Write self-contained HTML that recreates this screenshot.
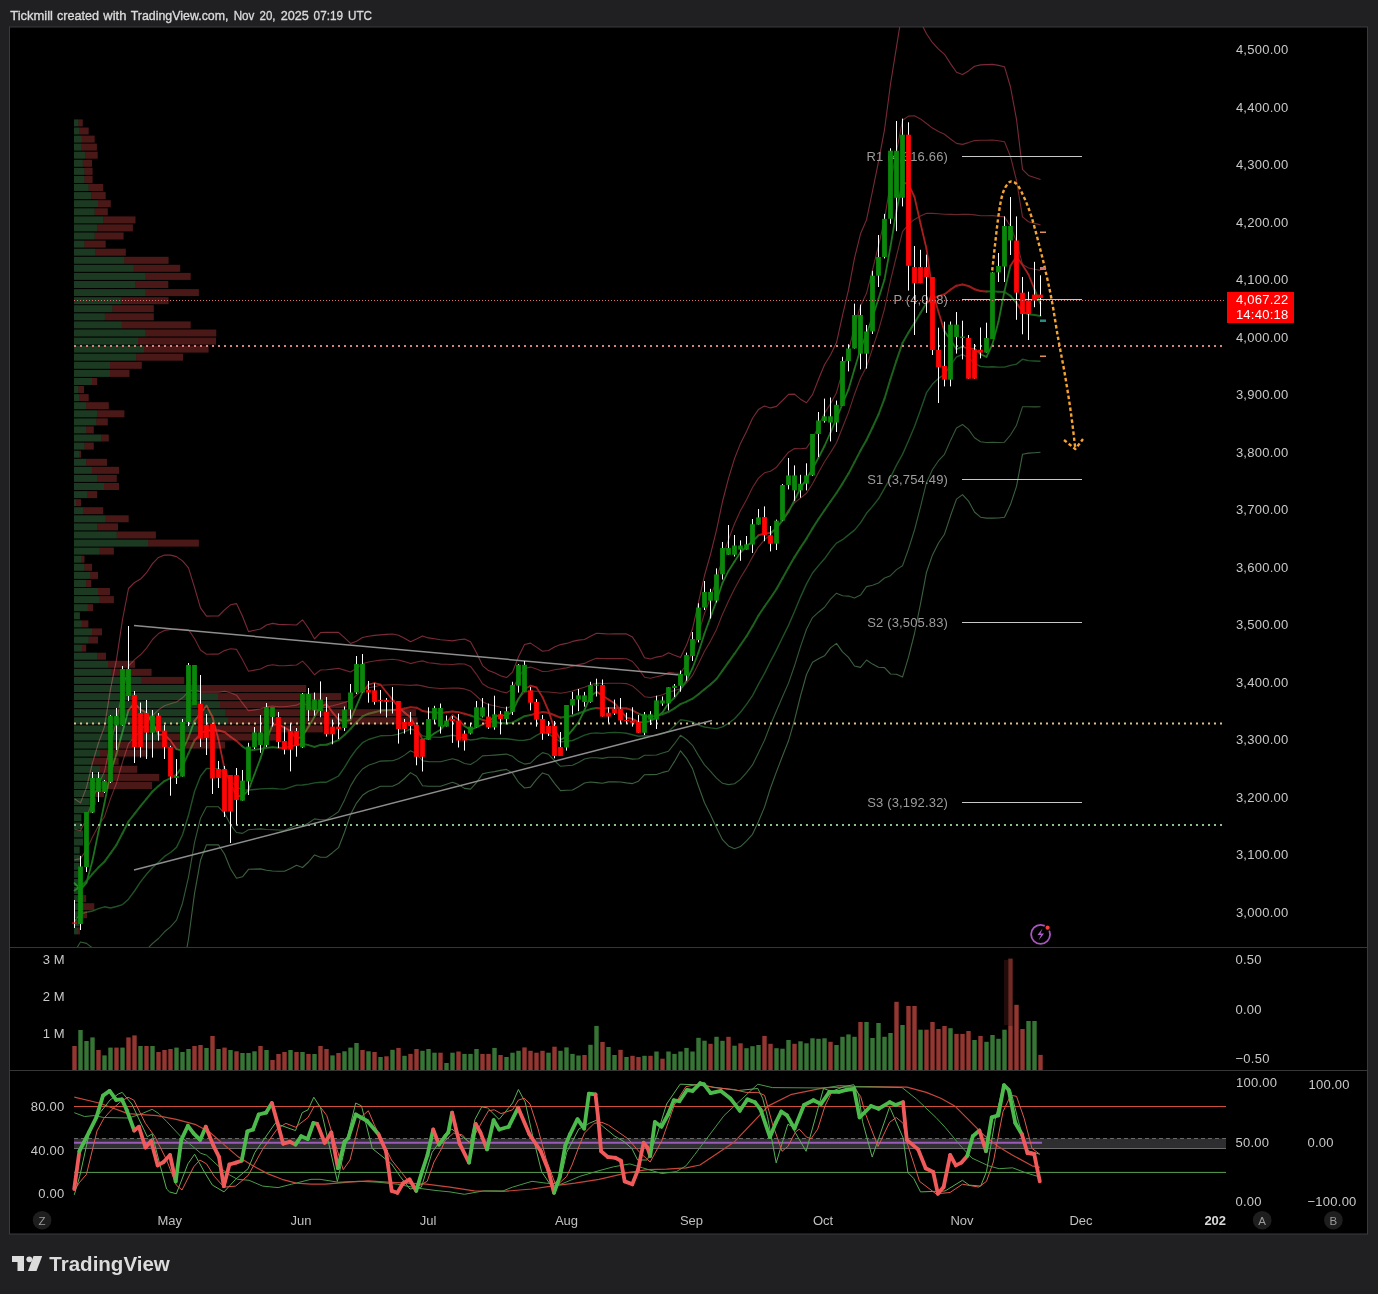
<!DOCTYPE html><html><head><meta charset="utf-8"><style>
html,body{margin:0;padding:0;background:#201f22;width:1378px;height:1294px;overflow:hidden;}
svg{position:absolute;left:0;top:0;}
text{font-family:"Liberation Sans",Arial,sans-serif;}
</style></head><body>
<svg width="1378" height="1294" viewBox="0 0 1378 1294">
<text y="20" font-size="13" fill="#dadada" stroke="#dadada" stroke-width="0.35"><tspan x="10.2" textLength="42.8" lengthAdjust="spacingAndGlyphs">Tickmill</tspan> <tspan x="57" textLength="42" lengthAdjust="spacingAndGlyphs">created</tspan> <tspan x="103.3" textLength="23.1" lengthAdjust="spacingAndGlyphs">with</tspan> <tspan x="130.7" textLength="97.8" lengthAdjust="spacingAndGlyphs">TradingView.com,</tspan> <tspan x="233.7" textLength="20.7" lengthAdjust="spacingAndGlyphs">Nov</tspan> <tspan x="259.5" textLength="16" lengthAdjust="spacingAndGlyphs">20,</tspan> <tspan x="280.8" textLength="28.1" lengthAdjust="spacingAndGlyphs">2025</tspan> <tspan x="313.6" textLength="29.4" lengthAdjust="spacingAndGlyphs">07:19</tspan> <tspan x="348" textLength="24" lengthAdjust="spacingAndGlyphs">UTC</tspan></text>
<rect x="9.5" y="27" width="1358" height="1207" fill="#000" stroke="#3a3a3a" stroke-width="1"/>
<line x1="10" y1="947.5" x2="1367" y2="947.5" stroke="#363636" stroke-width="1"/>
<line x1="10" y1="1070.5" x2="1367" y2="1070.5" stroke="#363636" stroke-width="1"/>
<defs><clipPath id="mp"><rect x="10" y="27" width="1216" height="920"/></clipPath>
<clipPath id="op"><rect x="10" y="1071" width="1216" height="140"/></clipPath></defs>
<g clip-path="url(#mp)">
<polyline points="74.5,798.8 80.5,802.9 86.5,787.6 92.5,762.8 98.5,742.9 104.5,726.6 110.5,689.1 116.5,659.6 122.5,619.5 128.5,588.5 134.5,582.5 140.5,579.1 146.5,572.7 152.5,563.6 158.5,557.4 164.5,555 170.5,555.1 176.5,556.6 182.5,560.9 188.5,567.9 194.5,587.4 200.5,607.9 206.5,616.1 212.5,616 218.5,616 224.5,609.9 230.5,604.8 236.5,603.6 242.5,616.3 248.5,631.6 254.5,630.3 260.5,629 266.5,625 272.5,623.4 278.5,624.4 284.5,624.6 290.5,624.8 296.5,625 302.5,619.8 308.5,628.3 314.5,638.8 320.5,632.6 326.5,632.3 332.5,632.4 338.5,632.4 344.5,637.6 350.5,643.4 356.5,641.3 362.5,637.5 368.5,636.2 374.5,635.4 380.5,634.9 386.5,634.4 392.5,634 398.5,635.3 404.5,638.2 410.5,641.8 416.5,639.1 422.5,635.9 428.5,637.9 434.5,638.8 440.5,639.7 446.5,640.3 452.5,640.9 458.5,639.8 464.5,639.1 470.5,641.8 476.5,652.7 482.5,665.6 488.5,670.6 494.5,672.7 500.5,675.7 506.5,677.6 512.5,672.2 518.5,656.7 524.5,644.5 530.5,643.1 536.5,647.1 542.5,651.3 548.5,650.5 554.5,647 560.5,644.6 566.5,643.4 572.5,641.4 578.5,640.1 584.5,639.5 590.5,636.2 596.5,633.3 602.5,633.6 608.5,634 614.5,633.9 620.5,633.9 626.5,633.9 632.5,637.1 638.5,646.2 644.5,657.7 650.5,659 656.5,657.1 662.5,656 668.5,652.7 674.5,655.3 680.5,657.6 686.5,645.1 692.5,628.8 698.5,602.4 704.5,575.5 710.5,554.3 716.5,530.2 722.5,501.5 728.5,478.4 734.5,458.6 740.5,443.4 746.5,431.5 752.5,418.2 758.5,409.4 764.5,405.9 770.5,407.9 776.5,406.4 782.5,400.5 788.5,394.4 794.5,394.1 800.5,399.2 806.5,402.8 812.5,394.6 818.5,379.3 824.5,364.7 830.5,355 836.5,342.6 842.5,315.4 848.5,289.9 854.5,258.2 860.5,233.8 866.5,219.9 872.5,191 878.5,161.7 884.5,129.8 890.5,84 896.5,46.9 902.5,9 908.5,7.9 914.5,12.3 920.5,21.9 926.5,33.8 932.5,42.7 938.5,49.2 944.5,54.3 950.5,63.6 956.5,72.3 962.5,74.4 968.5,70.9 974.5,66.3 980.5,64.9 986.5,64.6 992.5,64.4 998.5,65.4 1004.5,66.7 1010.5,87 1016.5,119.3 1022.5,169.4 1028.5,175.4 1034.5,177.5 1040.5,179.5" fill="none" stroke="#7a2a38" stroke-width="1.1" stroke-linejoin="round" />
<polyline points="74.5,829.3 80.5,830.7 86.5,818.7 92.5,799.8 98.5,784.4 104.5,771.6 110.5,743.9 116.5,721.3 122.5,690.8 128.5,666.1 134.5,659.6 140.5,654.8 146.5,648.1 152.5,639.5 158.5,633.6 164.5,630.4 170.5,629.5 176.5,629.3 182.5,629.4 188.5,629.7 194.5,638.5 200.5,650 206.5,654.2 212.5,654.1 218.5,654.1 224.5,650.6 230.5,648.8 236.5,649.4 242.5,659.7 248.5,671.2 254.5,670.1 260.5,669 266.5,665.9 272.5,664.7 278.5,665.6 284.5,665.7 290.5,665.4 296.5,665 302.5,661.1 308.5,667.3 314.5,674.8 320.5,670 326.5,669.8 332.5,669.1 338.5,668.3 344.5,670.1 350.5,672 356.5,668.3 362.5,663.8 368.5,662 374.5,661 380.5,660.1 386.5,659.7 392.5,659.3 398.5,660 404.5,661.6 410.5,663.6 416.5,662 422.5,660.9 428.5,662.7 434.5,663.4 440.5,664.1 446.5,664.3 452.5,664.5 458.5,663.9 464.5,664 470.5,666.4 476.5,674.3 482.5,683.7 488.5,687.5 494.5,689.2 500.5,691.5 506.5,692.9 512.5,689 518.5,677.6 524.5,668.4 530.5,667.1 536.5,669.1 542.5,671.5 548.5,671.3 554.5,669.7 560.5,668.9 566.5,667.9 572.5,666.2 578.5,664.6 584.5,663.4 590.5,660.5 596.5,658.2 602.5,658.5 608.5,658.6 614.5,658.6 620.5,658.6 626.5,658.8 632.5,661.5 638.5,668.7 644.5,677.2 650.5,678.3 656.5,676.7 662.5,675.4 668.5,672.4 674.5,673 680.5,673.2 686.5,664 692.5,652.1 698.5,633.1 704.5,613.4 710.5,597.7 716.5,579.8 722.5,557.8 728.5,539.6 734.5,523.7 740.5,510.6 746.5,499.7 752.5,487.5 758.5,478.1 764.5,472.8 770.5,471.3 776.5,467.2 782.5,459.7 788.5,452.2 794.5,448.5 800.5,448.7 806.5,448.1 812.5,439.2 818.5,425.9 824.5,413.2 830.5,403.8 836.5,392.7 842.5,371.5 848.5,351.2 854.5,326.2 860.5,306.1 866.5,293.3 872.5,269.8 878.5,246 884.5,219.4 890.5,182.4 896.5,151.4 902.5,120.3 908.5,116.1 914.5,115.8 920.5,118.9 926.5,123.5 932.5,128.1 938.5,131.5 944.5,134.3 950.5,139 956.5,143.4 962.5,144.4 968.5,142.6 974.5,140.6 980.5,140.3 986.5,140.2 992.5,140 998.5,140.8 1004.5,141.8 1010.5,156.6 1016.5,180.5 1022.5,216.9 1028.5,221.7 1034.5,223.4 1040.5,224.9" fill="none" stroke="#72262f" stroke-width="1.1" stroke-linejoin="round" />
<polyline points="74.5,859.9 80.5,858.6 86.5,849.9 92.5,836.9 98.5,825.8 104.5,816.7 110.5,798.6 116.5,783.1 122.5,762 128.5,743.8 134.5,736.8 140.5,730.5 146.5,723.5 152.5,715.5 158.5,709.8 164.5,705.7 170.5,703.8 176.5,702 182.5,697.8 188.5,691.6 194.5,689.5 200.5,692.1 206.5,692.3 212.5,692.3 218.5,692.3 224.5,691.3 230.5,692.8 236.5,695.2 242.5,703.1 248.5,710.8 254.5,709.9 260.5,709 266.5,706.8 272.5,706 278.5,706.7 284.5,706.8 290.5,706 296.5,705.1 302.5,702.4 308.5,706.2 314.5,710.9 320.5,707.5 326.5,707.2 332.5,705.8 338.5,704.2 344.5,702.5 350.5,700.5 356.5,695.2 362.5,690.1 368.5,687.8 374.5,686.6 380.5,685.3 386.5,685 392.5,684.7 398.5,684.7 404.5,685 410.5,685.4 416.5,684.9 422.5,685.9 428.5,687.4 434.5,688 440.5,688.5 446.5,688.3 452.5,688 458.5,688.1 464.5,688.9 470.5,690.9 476.5,696 482.5,701.7 488.5,704.5 494.5,705.7 500.5,707.3 506.5,708.2 512.5,705.8 518.5,698.5 524.5,692.3 530.5,691.1 536.5,691.2 542.5,691.8 548.5,692 554.5,692.5 560.5,693.3 566.5,692.3 572.5,691 578.5,689 584.5,687.3 590.5,684.8 596.5,683.1 602.5,683.5 608.5,683.3 614.5,683.2 620.5,683.3 626.5,683.6 632.5,685.9 638.5,691.2 644.5,696.7 650.5,697.5 656.5,696.2 662.5,694.8 668.5,692.1 674.5,690.6 680.5,688.7 686.5,682.9 692.5,675.4 698.5,663.7 704.5,651.3 710.5,641.1 716.5,629.4 722.5,614.2 728.5,600.9 734.5,588.7 740.5,577.8 746.5,567.9 752.5,556.9 758.5,546.8 764.5,539.7 770.5,534.6 776.5,528.1 782.5,519 788.5,509.9 794.5,502.8 800.5,498.1 806.5,493.3 812.5,483.8 818.5,472.4 824.5,461.7 830.5,452.6 836.5,442.8 842.5,427.5 848.5,412.4 854.5,394.2 860.5,378.3 866.5,366.6 872.5,348.7 878.5,330.3 884.5,309 890.5,280.7 896.5,256 902.5,231.7 908.5,224.3 914.5,219.4 920.5,215.9 926.5,213.2 932.5,213.4 938.5,213.8 944.5,214.3 950.5,214.4 956.5,214.6 962.5,214.4 968.5,214.3 974.5,214.9 980.5,215.7 986.5,215.8 992.5,215.6 998.5,216.2 1004.5,216.9 1010.5,226.2 1016.5,241.7 1022.5,264.4 1028.5,268 1034.5,269.3 1040.5,270.4" fill="none" stroke="#6a282c" stroke-width="1.1" stroke-linejoin="round" />
<polyline points="74.5,921.1 80.5,914.2 86.5,912.2 92.5,911 98.5,908.7 104.5,906.8 110.5,908 116.5,906.5 122.5,904.6 128.5,899.2 134.5,891 140.5,881.9 146.5,874.3 152.5,867.5 158.5,862.3 164.5,856.4 170.5,852.5 176.5,847.4 182.5,834.8 188.5,815.3 194.5,791.5 200.5,776.2 206.5,768.5 212.5,768.6 218.5,768.6 224.5,772.7 230.5,780.8 236.5,786.8 242.5,790 248.5,790 254.5,789.5 260.5,788.9 266.5,788.6 272.5,788.5 278.5,788.9 284.5,789.1 290.5,787.2 296.5,785.1 302.5,785 308.5,784.1 314.5,782.9 320.5,782.3 326.5,782.2 332.5,779.2 338.5,776 344.5,767.4 350.5,757.5 356.5,749.2 362.5,742.7 368.5,739.5 374.5,737.7 380.5,735.8 386.5,735.6 392.5,735.4 398.5,734.1 404.5,731.8 410.5,729 416.5,730.6 422.5,735.9 428.5,736.9 434.5,737.1 440.5,737.4 446.5,736.3 452.5,735.2 458.5,736.3 464.5,738.6 470.5,740 476.5,739.3 482.5,737.8 488.5,738.5 494.5,738.6 500.5,738.8 506.5,738.8 512.5,739.5 518.5,740.4 524.5,740.2 530.5,739.1 536.5,735.3 542.5,732.3 548.5,733.6 554.5,737.9 560.5,741.9 566.5,741.3 572.5,740.5 578.5,737.9 584.5,735.1 590.5,733.4 596.5,732.9 602.5,733.4 608.5,732.6 614.5,732.5 620.5,732.6 626.5,733.3 632.5,734.7 638.5,736.2 644.5,735.7 650.5,736 656.5,735.4 662.5,733.6 668.5,731.5 674.5,726 680.5,719.7 686.5,720.6 692.5,722 698.5,725 704.5,727 710.5,727.9 716.5,728.6 722.5,726.9 728.5,723.4 734.5,718.8 740.5,712.2 746.5,704.4 752.5,695.6 758.5,684.1 764.5,673.4 770.5,661.3 776.5,649.9 782.5,637.5 788.5,625.4 794.5,611.5 800.5,597.1 806.5,583.9 812.5,573 818.5,565.6 824.5,558.8 830.5,550.3 836.5,543.1 842.5,539.7 848.5,534.9 854.5,530.1 860.5,522.9 866.5,513.3 872.5,506.4 878.5,498.8 884.5,488.3 890.5,477.4 896.5,465.1 902.5,454.4 908.5,440.8 914.5,426.5 920.5,409.9 926.5,392.7 932.5,384.1 938.5,378.4 944.5,374.3 950.5,365.1 956.5,356.8 962.5,354.5 968.5,357.7 974.5,363.5 980.5,366.4 986.5,367 992.5,366.8 998.5,367.1 1004.5,367.1 1010.5,365.4 1016.5,364.1 1022.5,359.3 1028.5,360.6 1034.5,361 1040.5,361.3" fill="none" stroke="#1f5226" stroke-width="1.4" stroke-linejoin="round" />
<polyline points="74.5,951.7 80.5,942 86.5,943.4 92.5,948 98.5,950.2 104.5,951.8 110.5,962.8 116.5,968.3 122.5,975.9 128.5,976.9 134.5,968.1 140.5,957.6 146.5,949.7 152.5,943.5 158.5,938.5 164.5,931.8 170.5,926.9 176.5,920.1 182.5,903.2 188.5,877.1 194.5,842.6 200.5,818.2 206.5,806.7 212.5,806.8 218.5,806.8 224.5,813.3 230.5,824.8 236.5,832.5 242.5,833.4 248.5,829.7 254.5,829.3 260.5,828.9 266.5,829.5 272.5,829.8 278.5,830 284.5,830.2 290.5,827.8 296.5,825.2 302.5,826.3 308.5,823 314.5,818.9 320.5,819.8 326.5,819.7 332.5,815.9 338.5,811.8 344.5,799.9 350.5,786.1 356.5,776.1 362.5,769 368.5,765.3 374.5,763.3 380.5,761.1 386.5,760.9 392.5,760.8 398.5,758.8 404.5,755.1 410.5,750.8 416.5,753.5 422.5,760.8 428.5,761.6 434.5,761.7 440.5,761.8 446.5,760.3 452.5,758.8 458.5,760.4 464.5,763.5 470.5,764.5 476.5,760.9 482.5,755.9 488.5,755.5 494.5,755.1 500.5,754.6 506.5,754.1 512.5,756.3 518.5,761.3 524.5,764.1 530.5,763.1 536.5,757.3 542.5,752.6 548.5,754.3 554.5,760.7 560.5,766.3 566.5,765.8 572.5,765.2 578.5,762.4 584.5,759 590.5,757.7 596.5,757.7 602.5,758.4 608.5,757.2 614.5,757.2 620.5,757.3 626.5,758.1 632.5,759.1 638.5,758.7 644.5,755.2 650.5,755.3 656.5,755 662.5,753 668.5,751.2 674.5,743.7 680.5,735.3 686.5,739.5 692.5,745.3 698.5,755.6 704.5,764.9 710.5,771.3 716.5,778.2 722.5,783.3 728.5,784.6 734.5,783.8 740.5,779.4 746.5,772.6 752.5,764.9 758.5,752.8 764.5,740.2 770.5,724.7 776.5,710.8 782.5,696.7 788.5,683.1 794.5,665.8 800.5,646.6 806.5,629.2 812.5,617.6 818.5,612.2 824.5,607.3 830.5,599.1 836.5,593.2 842.5,595.8 848.5,596.1 854.5,598.1 860.5,595.1 866.5,586.6 872.5,585.2 878.5,583 884.5,578 890.5,575.7 896.5,569.6 902.5,565.7 908.5,549 914.5,530 920.5,506.9 926.5,482.4 932.5,469.5 938.5,460.7 944.5,454.3 950.5,440.4 956.5,428 962.5,424.5 968.5,429.4 974.5,437.7 980.5,441.8 986.5,442.5 992.5,442.4 998.5,442.5 1004.5,442.2 1010.5,435 1016.5,425.2 1022.5,406.8 1028.5,406.8 1034.5,406.9 1040.5,406.8" fill="none" stroke="#345a37" stroke-width="1.1" stroke-linejoin="round" />
<polyline points="74.5,982.3 80.5,969.9 86.5,974.6 92.5,985.1 98.5,991.6 104.5,996.8 110.5,1017.5 116.5,1030 122.5,1047.1 128.5,1054.6 134.5,1045.2 140.5,1033.3 146.5,1025.1 152.5,1019.5 158.5,1014.7 164.5,1007.1 170.5,1001.2 176.5,992.8 182.5,971.7 188.5,939 194.5,893.6 200.5,860.3 206.5,844.8 212.5,844.9 218.5,844.9 224.5,854 230.5,868.8 236.5,878.3 242.5,876.8 248.5,869.3 254.5,869.1 260.5,868.9 266.5,870.3 272.5,871 278.5,871.2 284.5,871.3 290.5,868.4 296.5,865.2 302.5,867.5 308.5,862 314.5,854.9 320.5,857.2 326.5,857.2 332.5,852.7 338.5,847.7 344.5,832.3 350.5,814.6 356.5,803.1 362.5,795.3 368.5,791.2 374.5,788.9 380.5,786.3 386.5,786.2 392.5,786.2 398.5,783.5 404.5,778.5 410.5,772.6 416.5,776.3 422.5,785.8 428.5,786.3 434.5,786.3 440.5,786.3 446.5,784.3 452.5,782.3 458.5,784.6 464.5,788.4 470.5,789.1 476.5,782.6 482.5,773.9 488.5,772.5 494.5,771.6 500.5,770.4 506.5,769.4 512.5,773.1 518.5,782.3 524.5,788 530.5,787.1 536.5,779.4 542.5,772.9 548.5,775.1 554.5,783.4 560.5,790.6 566.5,790.3 572.5,790 578.5,786.8 584.5,783 590.5,782 596.5,782.6 602.5,783.3 608.5,781.9 614.5,781.8 620.5,782 626.5,782.9 632.5,783.6 638.5,781.2 644.5,774.7 650.5,774.6 656.5,774.5 662.5,772.4 668.5,771 674.5,761.4 680.5,750.8 686.5,758.3 692.5,768.6 698.5,786.2 704.5,802.8 710.5,814.8 716.5,827.8 722.5,839.7 728.5,845.9 734.5,848.8 740.5,846.6 746.5,840.9 752.5,834.3 758.5,821.5 764.5,807.1 770.5,788 776.5,771.6 782.5,756 788.5,740.8 794.5,720.1 800.5,696 806.5,674.5 812.5,662.2 818.5,658.8 824.5,655.8 830.5,647.9 836.5,643.4 842.5,651.9 848.5,657.4 854.5,666 860.5,667.4 866.5,660 872.5,664.1 878.5,667.3 884.5,667.6 890.5,674 896.5,674.2 902.5,677.1 908.5,657.2 914.5,633.5 920.5,603.9 926.5,572.2 932.5,554.9 938.5,543 944.5,534.2 950.5,515.8 956.5,499.1 962.5,494.6 968.5,501.1 974.5,512 980.5,517.2 986.5,518.1 992.5,518.1 998.5,518 1004.5,517.3 1010.5,504.6 1016.5,486.4 1022.5,454.3 1028.5,453.1 1034.5,452.7 1040.5,452.3" fill="none" stroke="#3b603e" stroke-width="1.1" stroke-linejoin="round" />
<line x1="74.5" y1="890.5" x2="80.5" y2="886.4" stroke="#1b621b" stroke-width="2" stroke-linecap="round"/>
<line x1="80.5" y1="886.4" x2="86.5" y2="881.1" stroke="#1b621b" stroke-width="2" stroke-linecap="round"/>
<line x1="86.5" y1="881.1" x2="92.5" y2="873.9" stroke="#1b621b" stroke-width="2" stroke-linecap="round"/>
<line x1="92.5" y1="873.9" x2="98.5" y2="867.3" stroke="#1b621b" stroke-width="2" stroke-linecap="round"/>
<line x1="98.5" y1="867.3" x2="104.5" y2="861.7" stroke="#1b621b" stroke-width="2" stroke-linecap="round"/>
<line x1="104.5" y1="861.7" x2="110.5" y2="853.3" stroke="#1b621b" stroke-width="2" stroke-linecap="round"/>
<line x1="110.5" y1="853.3" x2="116.5" y2="844.8" stroke="#1b621b" stroke-width="2" stroke-linecap="round"/>
<line x1="116.5" y1="844.8" x2="122.5" y2="833.3" stroke="#1b621b" stroke-width="2" stroke-linecap="round"/>
<line x1="122.5" y1="833.3" x2="128.5" y2="821.5" stroke="#1b621b" stroke-width="2" stroke-linecap="round"/>
<line x1="128.5" y1="821.5" x2="134.5" y2="813.9" stroke="#1b621b" stroke-width="2" stroke-linecap="round"/>
<line x1="134.5" y1="813.9" x2="140.5" y2="806.2" stroke="#1b621b" stroke-width="2" stroke-linecap="round"/>
<line x1="140.5" y1="806.2" x2="146.5" y2="798.9" stroke="#1b621b" stroke-width="2" stroke-linecap="round"/>
<line x1="146.5" y1="798.9" x2="152.5" y2="791.5" stroke="#1b621b" stroke-width="2" stroke-linecap="round"/>
<line x1="152.5" y1="791.5" x2="158.5" y2="786.1" stroke="#1b621b" stroke-width="2" stroke-linecap="round"/>
<line x1="158.5" y1="786.1" x2="164.5" y2="781.1" stroke="#1b621b" stroke-width="2" stroke-linecap="round"/>
<line x1="164.5" y1="781.1" x2="170.5" y2="778.2" stroke="#1b621b" stroke-width="2" stroke-linecap="round"/>
<line x1="170.5" y1="778.2" x2="176.5" y2="774.7" stroke="#9c1c1c" stroke-width="2" stroke-linecap="round"/>
<line x1="176.5" y1="774.7" x2="182.5" y2="766.3" stroke="#1b621b" stroke-width="2" stroke-linecap="round"/>
<line x1="182.5" y1="766.3" x2="188.5" y2="753.4" stroke="#1b621b" stroke-width="2" stroke-linecap="round"/>
<line x1="188.5" y1="753.4" x2="194.5" y2="740.5" stroke="#1b621b" stroke-width="2" stroke-linecap="round"/>
<line x1="194.5" y1="740.5" x2="200.5" y2="734.1" stroke="#9c1c1c" stroke-width="2" stroke-linecap="round"/>
<line x1="200.5" y1="734.1" x2="206.5" y2="730.4" stroke="#9c1c1c" stroke-width="2" stroke-linecap="round"/>
<line x1="206.5" y1="730.4" x2="212.5" y2="730.4" stroke="#9c1c1c" stroke-width="2" stroke-linecap="round"/>
<line x1="212.5" y1="730.4" x2="218.5" y2="730.5" stroke="#9c1c1c" stroke-width="2" stroke-linecap="round"/>
<line x1="218.5" y1="730.5" x2="224.5" y2="732" stroke="#9c1c1c" stroke-width="2" stroke-linecap="round"/>
<line x1="224.5" y1="732" x2="230.5" y2="736.8" stroke="#9c1c1c" stroke-width="2" stroke-linecap="round"/>
<line x1="230.5" y1="736.8" x2="236.5" y2="741" stroke="#9c1c1c" stroke-width="2" stroke-linecap="round"/>
<line x1="236.5" y1="741" x2="242.5" y2="746.5" stroke="#9c1c1c" stroke-width="2" stroke-linecap="round"/>
<line x1="242.5" y1="746.5" x2="248.5" y2="750.4" stroke="#1b621b" stroke-width="2" stroke-linecap="round"/>
<line x1="248.5" y1="750.4" x2="254.5" y2="749.7" stroke="#1b621b" stroke-width="2" stroke-linecap="round"/>
<line x1="254.5" y1="749.7" x2="260.5" y2="749" stroke="#1b621b" stroke-width="2" stroke-linecap="round"/>
<line x1="260.5" y1="749" x2="266.5" y2="747.7" stroke="#1b621b" stroke-width="2" stroke-linecap="round"/>
<line x1="266.5" y1="747.7" x2="272.5" y2="747.2" stroke="#1b621b" stroke-width="2" stroke-linecap="round"/>
<line x1="272.5" y1="747.2" x2="278.5" y2="747.8" stroke="#1b621b" stroke-width="2" stroke-linecap="round"/>
<line x1="278.5" y1="747.8" x2="284.5" y2="747.9" stroke="#9c1c1c" stroke-width="2" stroke-linecap="round"/>
<line x1="284.5" y1="747.9" x2="290.5" y2="746.6" stroke="#9c1c1c" stroke-width="2" stroke-linecap="round"/>
<line x1="290.5" y1="746.6" x2="296.5" y2="745.1" stroke="#9c1c1c" stroke-width="2" stroke-linecap="round"/>
<line x1="296.5" y1="745.1" x2="302.5" y2="743.7" stroke="#1b621b" stroke-width="2" stroke-linecap="round"/>
<line x1="302.5" y1="743.7" x2="308.5" y2="745.1" stroke="#1b621b" stroke-width="2" stroke-linecap="round"/>
<line x1="308.5" y1="745.1" x2="314.5" y2="746.9" stroke="#1b621b" stroke-width="2" stroke-linecap="round"/>
<line x1="314.5" y1="746.9" x2="320.5" y2="744.9" stroke="#1b621b" stroke-width="2" stroke-linecap="round"/>
<line x1="320.5" y1="744.9" x2="326.5" y2="744.7" stroke="#1b621b" stroke-width="2" stroke-linecap="round"/>
<line x1="326.5" y1="744.7" x2="332.5" y2="742.5" stroke="#1b621b" stroke-width="2" stroke-linecap="round"/>
<line x1="332.5" y1="742.5" x2="338.5" y2="740.1" stroke="#1b621b" stroke-width="2" stroke-linecap="round"/>
<line x1="338.5" y1="740.1" x2="344.5" y2="735" stroke="#1b621b" stroke-width="2" stroke-linecap="round"/>
<line x1="344.5" y1="735" x2="350.5" y2="729" stroke="#1b621b" stroke-width="2" stroke-linecap="round"/>
<line x1="350.5" y1="729" x2="356.5" y2="722.2" stroke="#1b621b" stroke-width="2" stroke-linecap="round"/>
<line x1="356.5" y1="722.2" x2="362.5" y2="716.4" stroke="#1b621b" stroke-width="2" stroke-linecap="round"/>
<line x1="362.5" y1="716.4" x2="368.5" y2="713.7" stroke="#1b621b" stroke-width="2" stroke-linecap="round"/>
<line x1="368.5" y1="713.7" x2="374.5" y2="712.2" stroke="#1b621b" stroke-width="2" stroke-linecap="round"/>
<line x1="374.5" y1="712.2" x2="380.5" y2="710.6" stroke="#1b621b" stroke-width="2" stroke-linecap="round"/>
<line x1="380.5" y1="710.6" x2="386.5" y2="710.3" stroke="#1b621b" stroke-width="2" stroke-linecap="round"/>
<line x1="386.5" y1="710.3" x2="392.5" y2="710.1" stroke="#1b621b" stroke-width="2" stroke-linecap="round"/>
<line x1="392.5" y1="710.1" x2="398.5" y2="709.4" stroke="#9c1c1c" stroke-width="2" stroke-linecap="round"/>
<line x1="398.5" y1="709.4" x2="404.5" y2="708.4" stroke="#9c1c1c" stroke-width="2" stroke-linecap="round"/>
<line x1="404.5" y1="708.4" x2="410.5" y2="707.2" stroke="#9c1c1c" stroke-width="2" stroke-linecap="round"/>
<line x1="410.5" y1="707.2" x2="416.5" y2="707.7" stroke="#9c1c1c" stroke-width="2" stroke-linecap="round"/>
<line x1="416.5" y1="707.7" x2="422.5" y2="710.9" stroke="#9c1c1c" stroke-width="2" stroke-linecap="round"/>
<line x1="422.5" y1="710.9" x2="428.5" y2="712.1" stroke="#9c1c1c" stroke-width="2" stroke-linecap="round"/>
<line x1="428.5" y1="712.1" x2="434.5" y2="712.5" stroke="#1b621b" stroke-width="2" stroke-linecap="round"/>
<line x1="434.5" y1="712.5" x2="440.5" y2="713" stroke="#1b621b" stroke-width="2" stroke-linecap="round"/>
<line x1="440.5" y1="713" x2="446.5" y2="712.3" stroke="#9c1c1c" stroke-width="2" stroke-linecap="round"/>
<line x1="446.5" y1="712.3" x2="452.5" y2="711.6" stroke="#9c1c1c" stroke-width="2" stroke-linecap="round"/>
<line x1="452.5" y1="711.6" x2="458.5" y2="712.2" stroke="#9c1c1c" stroke-width="2" stroke-linecap="round"/>
<line x1="458.5" y1="712.2" x2="464.5" y2="713.7" stroke="#9c1c1c" stroke-width="2" stroke-linecap="round"/>
<line x1="464.5" y1="713.7" x2="470.5" y2="715.5" stroke="#9c1c1c" stroke-width="2" stroke-linecap="round"/>
<line x1="470.5" y1="715.5" x2="476.5" y2="717.6" stroke="#1b621b" stroke-width="2" stroke-linecap="round"/>
<line x1="476.5" y1="717.6" x2="482.5" y2="719.8" stroke="#1b621b" stroke-width="2" stroke-linecap="round"/>
<line x1="482.5" y1="719.8" x2="488.5" y2="721.5" stroke="#9c1c1c" stroke-width="2" stroke-linecap="round"/>
<line x1="488.5" y1="721.5" x2="494.5" y2="722.1" stroke="#1b621b" stroke-width="2" stroke-linecap="round"/>
<line x1="494.5" y1="722.1" x2="500.5" y2="723" stroke="#1b621b" stroke-width="2" stroke-linecap="round"/>
<line x1="500.5" y1="723" x2="506.5" y2="723.5" stroke="#1b621b" stroke-width="2" stroke-linecap="round"/>
<line x1="506.5" y1="723.5" x2="512.5" y2="722.7" stroke="#1b621b" stroke-width="2" stroke-linecap="round"/>
<line x1="512.5" y1="722.7" x2="518.5" y2="719.5" stroke="#1b621b" stroke-width="2" stroke-linecap="round"/>
<line x1="518.5" y1="719.5" x2="524.5" y2="716.2" stroke="#1b621b" stroke-width="2" stroke-linecap="round"/>
<line x1="524.5" y1="716.2" x2="530.5" y2="715.1" stroke="#1b621b" stroke-width="2" stroke-linecap="round"/>
<line x1="530.5" y1="715.1" x2="536.5" y2="713.2" stroke="#9c1c1c" stroke-width="2" stroke-linecap="round"/>
<line x1="536.5" y1="713.2" x2="542.5" y2="712.1" stroke="#9c1c1c" stroke-width="2" stroke-linecap="round"/>
<line x1="542.5" y1="712.1" x2="548.5" y2="712.8" stroke="#9c1c1c" stroke-width="2" stroke-linecap="round"/>
<line x1="548.5" y1="712.8" x2="554.5" y2="715.2" stroke="#9c1c1c" stroke-width="2" stroke-linecap="round"/>
<line x1="554.5" y1="715.2" x2="560.5" y2="717.6" stroke="#9c1c1c" stroke-width="2" stroke-linecap="round"/>
<line x1="560.5" y1="717.6" x2="566.5" y2="716.8" stroke="#1b621b" stroke-width="2" stroke-linecap="round"/>
<line x1="566.5" y1="716.8" x2="572.5" y2="715.7" stroke="#1b621b" stroke-width="2" stroke-linecap="round"/>
<line x1="572.5" y1="715.7" x2="578.5" y2="713.5" stroke="#1b621b" stroke-width="2" stroke-linecap="round"/>
<line x1="578.5" y1="713.5" x2="584.5" y2="711.2" stroke="#1b621b" stroke-width="2" stroke-linecap="round"/>
<line x1="584.5" y1="711.2" x2="590.5" y2="709.1" stroke="#1b621b" stroke-width="2" stroke-linecap="round"/>
<line x1="590.5" y1="709.1" x2="596.5" y2="708" stroke="#1b621b" stroke-width="2" stroke-linecap="round"/>
<line x1="596.5" y1="708" x2="602.5" y2="708.5" stroke="#9c1c1c" stroke-width="2" stroke-linecap="round"/>
<line x1="602.5" y1="708.5" x2="608.5" y2="707.9" stroke="#9c1c1c" stroke-width="2" stroke-linecap="round"/>
<line x1="608.5" y1="707.9" x2="614.5" y2="707.9" stroke="#9c1c1c" stroke-width="2" stroke-linecap="round"/>
<line x1="614.5" y1="707.9" x2="620.5" y2="707.9" stroke="#9c1c1c" stroke-width="2" stroke-linecap="round"/>
<line x1="620.5" y1="707.9" x2="626.5" y2="708.4" stroke="#9c1c1c" stroke-width="2" stroke-linecap="round"/>
<line x1="626.5" y1="708.4" x2="632.5" y2="710.3" stroke="#9c1c1c" stroke-width="2" stroke-linecap="round"/>
<line x1="632.5" y1="710.3" x2="638.5" y2="713.7" stroke="#9c1c1c" stroke-width="2" stroke-linecap="round"/>
<line x1="638.5" y1="713.7" x2="644.5" y2="716.2" stroke="#1b621b" stroke-width="2" stroke-linecap="round"/>
<line x1="644.5" y1="716.2" x2="650.5" y2="716.8" stroke="#1b621b" stroke-width="2" stroke-linecap="round"/>
<line x1="650.5" y1="716.8" x2="656.5" y2="715.8" stroke="#1b621b" stroke-width="2" stroke-linecap="round"/>
<line x1="656.5" y1="715.8" x2="662.5" y2="714.2" stroke="#1b621b" stroke-width="2" stroke-linecap="round"/>
<line x1="662.5" y1="714.2" x2="668.5" y2="711.8" stroke="#1b621b" stroke-width="2" stroke-linecap="round"/>
<line x1="668.5" y1="711.8" x2="674.5" y2="708.3" stroke="#1b621b" stroke-width="2" stroke-linecap="round"/>
<line x1="674.5" y1="708.3" x2="680.5" y2="704.2" stroke="#1b621b" stroke-width="2" stroke-linecap="round"/>
<line x1="680.5" y1="704.2" x2="686.5" y2="701.7" stroke="#1b621b" stroke-width="2" stroke-linecap="round"/>
<line x1="686.5" y1="701.7" x2="692.5" y2="698.7" stroke="#1b621b" stroke-width="2" stroke-linecap="round"/>
<line x1="692.5" y1="698.7" x2="698.5" y2="694.3" stroke="#1b621b" stroke-width="2" stroke-linecap="round"/>
<line x1="698.5" y1="694.3" x2="704.5" y2="689.2" stroke="#1b621b" stroke-width="2" stroke-linecap="round"/>
<line x1="704.5" y1="689.2" x2="710.5" y2="684.5" stroke="#1b621b" stroke-width="2" stroke-linecap="round"/>
<line x1="710.5" y1="684.5" x2="716.5" y2="679" stroke="#1b621b" stroke-width="2" stroke-linecap="round"/>
<line x1="716.5" y1="679" x2="722.5" y2="670.6" stroke="#1b621b" stroke-width="2" stroke-linecap="round"/>
<line x1="722.5" y1="670.6" x2="728.5" y2="662.1" stroke="#1b621b" stroke-width="2" stroke-linecap="round"/>
<line x1="728.5" y1="662.1" x2="734.5" y2="653.7" stroke="#1b621b" stroke-width="2" stroke-linecap="round"/>
<line x1="734.5" y1="653.7" x2="740.5" y2="645" stroke="#1b621b" stroke-width="2" stroke-linecap="round"/>
<line x1="740.5" y1="645" x2="746.5" y2="636.2" stroke="#1b621b" stroke-width="2" stroke-linecap="round"/>
<line x1="746.5" y1="636.2" x2="752.5" y2="626.2" stroke="#1b621b" stroke-width="2" stroke-linecap="round"/>
<line x1="752.5" y1="626.2" x2="758.5" y2="615.5" stroke="#1b621b" stroke-width="2" stroke-linecap="round"/>
<line x1="758.5" y1="615.5" x2="764.5" y2="606.5" stroke="#1b621b" stroke-width="2" stroke-linecap="round"/>
<line x1="764.5" y1="606.5" x2="770.5" y2="598" stroke="#1b621b" stroke-width="2" stroke-linecap="round"/>
<line x1="770.5" y1="598" x2="776.5" y2="589" stroke="#1b621b" stroke-width="2" stroke-linecap="round"/>
<line x1="776.5" y1="589" x2="782.5" y2="578.2" stroke="#1b621b" stroke-width="2" stroke-linecap="round"/>
<line x1="782.5" y1="578.2" x2="788.5" y2="567.6" stroke="#1b621b" stroke-width="2" stroke-linecap="round"/>
<line x1="788.5" y1="567.6" x2="794.5" y2="557.1" stroke="#1b621b" stroke-width="2" stroke-linecap="round"/>
<line x1="794.5" y1="557.1" x2="800.5" y2="547.6" stroke="#1b621b" stroke-width="2" stroke-linecap="round"/>
<line x1="800.5" y1="547.6" x2="806.5" y2="538.6" stroke="#1b621b" stroke-width="2" stroke-linecap="round"/>
<line x1="806.5" y1="538.6" x2="812.5" y2="528.4" stroke="#1b621b" stroke-width="2" stroke-linecap="round"/>
<line x1="812.5" y1="528.4" x2="818.5" y2="519" stroke="#1b621b" stroke-width="2" stroke-linecap="round"/>
<line x1="818.5" y1="519" x2="824.5" y2="510.2" stroke="#1b621b" stroke-width="2" stroke-linecap="round"/>
<line x1="824.5" y1="510.2" x2="830.5" y2="501.5" stroke="#1b621b" stroke-width="2" stroke-linecap="round"/>
<line x1="830.5" y1="501.5" x2="836.5" y2="493" stroke="#1b621b" stroke-width="2" stroke-linecap="round"/>
<line x1="836.5" y1="493" x2="842.5" y2="483.6" stroke="#1b621b" stroke-width="2" stroke-linecap="round"/>
<line x1="842.5" y1="483.6" x2="848.5" y2="473.6" stroke="#1b621b" stroke-width="2" stroke-linecap="round"/>
<line x1="848.5" y1="473.6" x2="854.5" y2="462.1" stroke="#1b621b" stroke-width="2" stroke-linecap="round"/>
<line x1="854.5" y1="462.1" x2="860.5" y2="450.6" stroke="#1b621b" stroke-width="2" stroke-linecap="round"/>
<line x1="860.5" y1="450.6" x2="866.5" y2="440" stroke="#1b621b" stroke-width="2" stroke-linecap="round"/>
<line x1="866.5" y1="440" x2="872.5" y2="427.5" stroke="#1b621b" stroke-width="2" stroke-linecap="round"/>
<line x1="872.5" y1="427.5" x2="878.5" y2="414.5" stroke="#1b621b" stroke-width="2" stroke-linecap="round"/>
<line x1="878.5" y1="414.5" x2="884.5" y2="398.7" stroke="#1b621b" stroke-width="2" stroke-linecap="round"/>
<line x1="884.5" y1="398.7" x2="890.5" y2="379" stroke="#1b621b" stroke-width="2" stroke-linecap="round"/>
<line x1="890.5" y1="379" x2="896.5" y2="360.5" stroke="#1b621b" stroke-width="2" stroke-linecap="round"/>
<line x1="896.5" y1="360.5" x2="902.5" y2="343" stroke="#1b621b" stroke-width="2" stroke-linecap="round"/>
<line x1="902.5" y1="343" x2="908.5" y2="332.5" stroke="#1b621b" stroke-width="2" stroke-linecap="round"/>
<line x1="908.5" y1="332.5" x2="914.5" y2="322.9" stroke="#1b621b" stroke-width="2" stroke-linecap="round"/>
<line x1="914.5" y1="322.9" x2="920.5" y2="312.9" stroke="#1b621b" stroke-width="2" stroke-linecap="round"/>
<line x1="920.5" y1="312.9" x2="926.5" y2="303" stroke="#1b621b" stroke-width="2" stroke-linecap="round"/>
<line x1="926.5" y1="303" x2="932.5" y2="298.8" stroke="#9c1c1c" stroke-width="2" stroke-linecap="round"/>
<line x1="932.5" y1="298.8" x2="938.5" y2="296.1" stroke="#9c1c1c" stroke-width="2" stroke-linecap="round"/>
<line x1="938.5" y1="296.1" x2="944.5" y2="294.3" stroke="#9c1c1c" stroke-width="2" stroke-linecap="round"/>
<line x1="944.5" y1="294.3" x2="950.5" y2="289.7" stroke="#9c1c1c" stroke-width="2" stroke-linecap="round"/>
<line x1="950.5" y1="289.7" x2="956.5" y2="285.7" stroke="#9c1c1c" stroke-width="2" stroke-linecap="round"/>
<line x1="956.5" y1="285.7" x2="962.5" y2="284.5" stroke="#9c1c1c" stroke-width="2" stroke-linecap="round"/>
<line x1="962.5" y1="284.5" x2="968.5" y2="286" stroke="#9c1c1c" stroke-width="2" stroke-linecap="round"/>
<line x1="968.5" y1="286" x2="974.5" y2="289.2" stroke="#9c1c1c" stroke-width="2" stroke-linecap="round"/>
<line x1="974.5" y1="289.2" x2="980.5" y2="291" stroke="#9c1c1c" stroke-width="2" stroke-linecap="round"/>
<line x1="980.5" y1="291" x2="986.5" y2="291.4" stroke="#9c1c1c" stroke-width="2" stroke-linecap="round"/>
<line x1="986.5" y1="291.4" x2="992.5" y2="291.2" stroke="#1b621b" stroke-width="2" stroke-linecap="round"/>
<line x1="992.5" y1="291.2" x2="998.5" y2="291.7" stroke="#1b621b" stroke-width="2" stroke-linecap="round"/>
<line x1="998.5" y1="291.7" x2="1004.5" y2="292" stroke="#1b621b" stroke-width="2" stroke-linecap="round"/>
<line x1="1004.5" y1="292" x2="1010.5" y2="295.8" stroke="#1b621b" stroke-width="2" stroke-linecap="round"/>
<line x1="1010.5" y1="295.8" x2="1016.5" y2="302.9" stroke="#1b621b" stroke-width="2" stroke-linecap="round"/>
<line x1="1016.5" y1="302.9" x2="1022.5" y2="311.9" stroke="#9c1c1c" stroke-width="2" stroke-linecap="round"/>
<line x1="1022.5" y1="311.9" x2="1028.5" y2="314.3" stroke="#1b621b" stroke-width="2" stroke-linecap="round"/>
<line x1="1028.5" y1="314.3" x2="1034.5" y2="315.1" stroke="#1b621b" stroke-width="2" stroke-linecap="round"/>
<line x1="1034.5" y1="315.1" x2="1040.5" y2="315.9" stroke="#1b621b" stroke-width="2" stroke-linecap="round"/>
<line x1="74.5" y1="883.2" x2="80.5" y2="889.6" stroke="#1d741d" stroke-width="1.8" stroke-linecap="round"/>
<line x1="80.5" y1="889.6" x2="86.5" y2="882.8" stroke="#1d741d" stroke-width="1.8" stroke-linecap="round"/>
<line x1="86.5" y1="882.8" x2="92.5" y2="860.4" stroke="#1d741d" stroke-width="1.8" stroke-linecap="round"/>
<line x1="92.5" y1="860.4" x2="98.5" y2="831.6" stroke="#1d741d" stroke-width="1.8" stroke-linecap="round"/>
<line x1="98.5" y1="831.6" x2="104.5" y2="803.1" stroke="#1d741d" stroke-width="1.8" stroke-linecap="round"/>
<line x1="104.5" y1="803.1" x2="110.5" y2="773" stroke="#1d741d" stroke-width="1.8" stroke-linecap="round"/>
<line x1="110.5" y1="773" x2="116.5" y2="753.8" stroke="#1d741d" stroke-width="1.8" stroke-linecap="round"/>
<line x1="116.5" y1="753.8" x2="122.5" y2="732" stroke="#1d741d" stroke-width="1.8" stroke-linecap="round"/>
<line x1="122.5" y1="732" x2="128.5" y2="710.2" stroke="#1d741d" stroke-width="1.8" stroke-linecap="round"/>
<line x1="128.5" y1="710.2" x2="134.5" y2="703.4" stroke="#ac1e1e" stroke-width="1.8" stroke-linecap="round"/>
<line x1="134.5" y1="703.4" x2="140.5" y2="709.6" stroke="#ac1e1e" stroke-width="1.8" stroke-linecap="round"/>
<line x1="140.5" y1="709.6" x2="146.5" y2="712.9" stroke="#ac1e1e" stroke-width="1.8" stroke-linecap="round"/>
<line x1="146.5" y1="712.9" x2="152.5" y2="722.3" stroke="#1d741d" stroke-width="1.8" stroke-linecap="round"/>
<line x1="152.5" y1="722.3" x2="158.5" y2="734.7" stroke="#1d741d" stroke-width="1.8" stroke-linecap="round"/>
<line x1="158.5" y1="734.7" x2="164.5" y2="734.7" stroke="#ac1e1e" stroke-width="1.8" stroke-linecap="round"/>
<line x1="164.5" y1="734.7" x2="170.5" y2="740.6" stroke="#ac1e1e" stroke-width="1.8" stroke-linecap="round"/>
<line x1="170.5" y1="740.6" x2="176.5" y2="749.2" stroke="#ac1e1e" stroke-width="1.8" stroke-linecap="round"/>
<line x1="176.5" y1="749.2" x2="182.5" y2="750.5" stroke="#1d741d" stroke-width="1.8" stroke-linecap="round"/>
<line x1="182.5" y1="750.5" x2="188.5" y2="737.3" stroke="#1d741d" stroke-width="1.8" stroke-linecap="round"/>
<line x1="188.5" y1="737.3" x2="194.5" y2="720.9" stroke="#1d741d" stroke-width="1.8" stroke-linecap="round"/>
<line x1="194.5" y1="720.9" x2="200.5" y2="713.3" stroke="#ac1e1e" stroke-width="1.8" stroke-linecap="round"/>
<line x1="200.5" y1="713.3" x2="206.5" y2="705.7" stroke="#ac1e1e" stroke-width="1.8" stroke-linecap="round"/>
<line x1="206.5" y1="705.7" x2="212.5" y2="717" stroke="#ac1e1e" stroke-width="1.8" stroke-linecap="round"/>
<line x1="212.5" y1="717" x2="218.5" y2="739.6" stroke="#ac1e1e" stroke-width="1.8" stroke-linecap="round"/>
<line x1="218.5" y1="739.6" x2="224.5" y2="768.9" stroke="#ac1e1e" stroke-width="1.8" stroke-linecap="round"/>
<line x1="224.5" y1="768.9" x2="230.5" y2="783.5" stroke="#ac1e1e" stroke-width="1.8" stroke-linecap="round"/>
<line x1="230.5" y1="783.5" x2="236.5" y2="795.9" stroke="#ac1e1e" stroke-width="1.8" stroke-linecap="round"/>
<line x1="236.5" y1="795.9" x2="242.5" y2="796.4" stroke="#1d741d" stroke-width="1.8" stroke-linecap="round"/>
<line x1="242.5" y1="796.4" x2="248.5" y2="790.1" stroke="#1d741d" stroke-width="1.8" stroke-linecap="round"/>
<line x1="248.5" y1="790.1" x2="254.5" y2="774.2" stroke="#1d741d" stroke-width="1.8" stroke-linecap="round"/>
<line x1="254.5" y1="774.2" x2="260.5" y2="758.4" stroke="#1d741d" stroke-width="1.8" stroke-linecap="round"/>
<line x1="260.5" y1="758.4" x2="266.5" y2="739.8" stroke="#1d741d" stroke-width="1.8" stroke-linecap="round"/>
<line x1="266.5" y1="739.8" x2="272.5" y2="725.1" stroke="#1d741d" stroke-width="1.8" stroke-linecap="round"/>
<line x1="272.5" y1="725.1" x2="278.5" y2="724.2" stroke="#ac1e1e" stroke-width="1.8" stroke-linecap="round"/>
<line x1="278.5" y1="724.2" x2="284.5" y2="727.6" stroke="#ac1e1e" stroke-width="1.8" stroke-linecap="round"/>
<line x1="284.5" y1="727.6" x2="290.5" y2="731.1" stroke="#ac1e1e" stroke-width="1.8" stroke-linecap="round"/>
<line x1="290.5" y1="731.1" x2="296.5" y2="738.9" stroke="#ac1e1e" stroke-width="1.8" stroke-linecap="round"/>
<line x1="296.5" y1="738.9" x2="302.5" y2="736.3" stroke="#1d741d" stroke-width="1.8" stroke-linecap="round"/>
<line x1="302.5" y1="736.3" x2="308.5" y2="726.7" stroke="#1d741d" stroke-width="1.8" stroke-linecap="round"/>
<line x1="308.5" y1="726.7" x2="314.5" y2="716.6" stroke="#1d741d" stroke-width="1.8" stroke-linecap="round"/>
<line x1="314.5" y1="716.6" x2="320.5" y2="706.6" stroke="#1d741d" stroke-width="1.8" stroke-linecap="round"/>
<line x1="320.5" y1="706.6" x2="326.5" y2="704.3" stroke="#ac1e1e" stroke-width="1.8" stroke-linecap="round"/>
<line x1="326.5" y1="704.3" x2="332.5" y2="712.3" stroke="#ac1e1e" stroke-width="1.8" stroke-linecap="round"/>
<line x1="332.5" y1="712.3" x2="338.5" y2="719.3" stroke="#ac1e1e" stroke-width="1.8" stroke-linecap="round"/>
<line x1="338.5" y1="719.3" x2="344.5" y2="721.3" stroke="#1d741d" stroke-width="1.8" stroke-linecap="round"/>
<line x1="344.5" y1="721.3" x2="350.5" y2="719.9" stroke="#1d741d" stroke-width="1.8" stroke-linecap="round"/>
<line x1="350.5" y1="719.9" x2="356.5" y2="705.9" stroke="#1d741d" stroke-width="1.8" stroke-linecap="round"/>
<line x1="356.5" y1="705.9" x2="362.5" y2="691.8" stroke="#1d741d" stroke-width="1.8" stroke-linecap="round"/>
<line x1="362.5" y1="691.8" x2="368.5" y2="684.5" stroke="#ac1e1e" stroke-width="1.8" stroke-linecap="round"/>
<line x1="368.5" y1="684.5" x2="374.5" y2="683" stroke="#ac1e1e" stroke-width="1.8" stroke-linecap="round"/>
<line x1="374.5" y1="683" x2="380.5" y2="684.7" stroke="#ac1e1e" stroke-width="1.8" stroke-linecap="round"/>
<line x1="380.5" y1="684.7" x2="386.5" y2="692.3" stroke="#ac1e1e" stroke-width="1.8" stroke-linecap="round"/>
<line x1="386.5" y1="692.3" x2="392.5" y2="699.8" stroke="#ac1e1e" stroke-width="1.8" stroke-linecap="round"/>
<line x1="392.5" y1="699.8" x2="398.5" y2="707.1" stroke="#ac1e1e" stroke-width="1.8" stroke-linecap="round"/>
<line x1="398.5" y1="707.1" x2="404.5" y2="712.5" stroke="#ac1e1e" stroke-width="1.8" stroke-linecap="round"/>
<line x1="404.5" y1="712.5" x2="410.5" y2="717.5" stroke="#ac1e1e" stroke-width="1.8" stroke-linecap="round"/>
<line x1="410.5" y1="717.5" x2="416.5" y2="728.5" stroke="#ac1e1e" stroke-width="1.8" stroke-linecap="round"/>
<line x1="416.5" y1="728.5" x2="422.5" y2="739.5" stroke="#ac1e1e" stroke-width="1.8" stroke-linecap="round"/>
<line x1="422.5" y1="739.5" x2="428.5" y2="737.5" stroke="#1d741d" stroke-width="1.8" stroke-linecap="round"/>
<line x1="428.5" y1="737.5" x2="434.5" y2="733.3" stroke="#1d741d" stroke-width="1.8" stroke-linecap="round"/>
<line x1="434.5" y1="733.3" x2="440.5" y2="729.7" stroke="#1d741d" stroke-width="1.8" stroke-linecap="round"/>
<line x1="440.5" y1="729.7" x2="446.5" y2="722.5" stroke="#1d741d" stroke-width="1.8" stroke-linecap="round"/>
<line x1="446.5" y1="722.5" x2="452.5" y2="715.3" stroke="#ac1e1e" stroke-width="1.8" stroke-linecap="round"/>
<line x1="452.5" y1="715.3" x2="458.5" y2="719.6" stroke="#ac1e1e" stroke-width="1.8" stroke-linecap="round"/>
<line x1="458.5" y1="719.6" x2="464.5" y2="726.1" stroke="#ac1e1e" stroke-width="1.8" stroke-linecap="round"/>
<line x1="464.5" y1="726.1" x2="470.5" y2="729.9" stroke="#1d741d" stroke-width="1.8" stroke-linecap="round"/>
<line x1="470.5" y1="729.9" x2="476.5" y2="727.2" stroke="#1d741d" stroke-width="1.8" stroke-linecap="round"/>
<line x1="476.5" y1="727.2" x2="482.5" y2="724.5" stroke="#1d741d" stroke-width="1.8" stroke-linecap="round"/>
<line x1="482.5" y1="724.5" x2="488.5" y2="721.8" stroke="#ac1e1e" stroke-width="1.8" stroke-linecap="round"/>
<line x1="488.5" y1="721.8" x2="494.5" y2="716.6" stroke="#1d741d" stroke-width="1.8" stroke-linecap="round"/>
<line x1="494.5" y1="716.6" x2="500.5" y2="715.1" stroke="#ac1e1e" stroke-width="1.8" stroke-linecap="round"/>
<line x1="500.5" y1="715.1" x2="506.5" y2="715.8" stroke="#1d741d" stroke-width="1.8" stroke-linecap="round"/>
<line x1="506.5" y1="715.8" x2="512.5" y2="711.4" stroke="#1d741d" stroke-width="1.8" stroke-linecap="round"/>
<line x1="512.5" y1="711.4" x2="518.5" y2="698.9" stroke="#1d741d" stroke-width="1.8" stroke-linecap="round"/>
<line x1="518.5" y1="698.9" x2="524.5" y2="689" stroke="#1d741d" stroke-width="1.8" stroke-linecap="round"/>
<line x1="524.5" y1="689" x2="530.5" y2="685.7" stroke="#ac1e1e" stroke-width="1.8" stroke-linecap="round"/>
<line x1="530.5" y1="685.7" x2="536.5" y2="687.4" stroke="#ac1e1e" stroke-width="1.8" stroke-linecap="round"/>
<line x1="536.5" y1="687.4" x2="542.5" y2="697.1" stroke="#ac1e1e" stroke-width="1.8" stroke-linecap="round"/>
<line x1="542.5" y1="697.1" x2="548.5" y2="710.9" stroke="#ac1e1e" stroke-width="1.8" stroke-linecap="round"/>
<line x1="548.5" y1="710.9" x2="554.5" y2="729.1" stroke="#ac1e1e" stroke-width="1.8" stroke-linecap="round"/>
<line x1="554.5" y1="729.1" x2="560.5" y2="739.8" stroke="#ac1e1e" stroke-width="1.8" stroke-linecap="round"/>
<line x1="560.5" y1="739.8" x2="566.5" y2="736.8" stroke="#1d741d" stroke-width="1.8" stroke-linecap="round"/>
<line x1="566.5" y1="736.8" x2="572.5" y2="729.9" stroke="#1d741d" stroke-width="1.8" stroke-linecap="round"/>
<line x1="572.5" y1="729.9" x2="578.5" y2="722.3" stroke="#1d741d" stroke-width="1.8" stroke-linecap="round"/>
<line x1="578.5" y1="722.3" x2="584.5" y2="710.2" stroke="#1d741d" stroke-width="1.8" stroke-linecap="round"/>
<line x1="584.5" y1="710.2" x2="590.5" y2="696" stroke="#1d741d" stroke-width="1.8" stroke-linecap="round"/>
<line x1="590.5" y1="696" x2="596.5" y2="691.9" stroke="#1d741d" stroke-width="1.8" stroke-linecap="round"/>
<line x1="596.5" y1="691.9" x2="602.5" y2="695.4" stroke="#ac1e1e" stroke-width="1.8" stroke-linecap="round"/>
<line x1="602.5" y1="695.4" x2="608.5" y2="699.6" stroke="#ac1e1e" stroke-width="1.8" stroke-linecap="round"/>
<line x1="608.5" y1="699.6" x2="614.5" y2="703.2" stroke="#ac1e1e" stroke-width="1.8" stroke-linecap="round"/>
<line x1="614.5" y1="703.2" x2="620.5" y2="710.3" stroke="#ac1e1e" stroke-width="1.8" stroke-linecap="round"/>
<line x1="620.5" y1="710.3" x2="626.5" y2="717.6" stroke="#ac1e1e" stroke-width="1.8" stroke-linecap="round"/>
<line x1="626.5" y1="717.6" x2="632.5" y2="718.9" stroke="#ac1e1e" stroke-width="1.8" stroke-linecap="round"/>
<line x1="632.5" y1="718.9" x2="638.5" y2="722.1" stroke="#ac1e1e" stroke-width="1.8" stroke-linecap="round"/>
<line x1="638.5" y1="722.1" x2="644.5" y2="722.3" stroke="#1d741d" stroke-width="1.8" stroke-linecap="round"/>
<line x1="644.5" y1="722.3" x2="650.5" y2="721" stroke="#1d741d" stroke-width="1.8" stroke-linecap="round"/>
<line x1="650.5" y1="721" x2="656.5" y2="716.9" stroke="#1d741d" stroke-width="1.8" stroke-linecap="round"/>
<line x1="656.5" y1="716.9" x2="662.5" y2="712.4" stroke="#1d741d" stroke-width="1.8" stroke-linecap="round"/>
<line x1="662.5" y1="712.4" x2="668.5" y2="703.3" stroke="#1d741d" stroke-width="1.8" stroke-linecap="round"/>
<line x1="668.5" y1="703.3" x2="674.5" y2="697.6" stroke="#1d741d" stroke-width="1.8" stroke-linecap="round"/>
<line x1="674.5" y1="697.6" x2="680.5" y2="689.5" stroke="#1d741d" stroke-width="1.8" stroke-linecap="round"/>
<line x1="680.5" y1="689.5" x2="686.5" y2="680.5" stroke="#1d741d" stroke-width="1.8" stroke-linecap="round"/>
<line x1="686.5" y1="680.5" x2="692.5" y2="668.2" stroke="#1d741d" stroke-width="1.8" stroke-linecap="round"/>
<line x1="692.5" y1="668.2" x2="698.5" y2="652.3" stroke="#1d741d" stroke-width="1.8" stroke-linecap="round"/>
<line x1="698.5" y1="652.3" x2="704.5" y2="633.5" stroke="#1d741d" stroke-width="1.8" stroke-linecap="round"/>
<line x1="704.5" y1="633.5" x2="710.5" y2="617.1" stroke="#1d741d" stroke-width="1.8" stroke-linecap="round"/>
<line x1="710.5" y1="617.1" x2="716.5" y2="601" stroke="#1d741d" stroke-width="1.8" stroke-linecap="round"/>
<line x1="716.5" y1="601" x2="722.5" y2="582.8" stroke="#1d741d" stroke-width="1.8" stroke-linecap="round"/>
<line x1="722.5" y1="582.8" x2="728.5" y2="570.9" stroke="#1d741d" stroke-width="1.8" stroke-linecap="round"/>
<line x1="728.5" y1="570.9" x2="734.5" y2="561.6" stroke="#1d741d" stroke-width="1.8" stroke-linecap="round"/>
<line x1="734.5" y1="561.6" x2="740.5" y2="552.3" stroke="#1d741d" stroke-width="1.8" stroke-linecap="round"/>
<line x1="740.5" y1="552.3" x2="746.5" y2="546.3" stroke="#1d741d" stroke-width="1.8" stroke-linecap="round"/>
<line x1="746.5" y1="546.3" x2="752.5" y2="541.5" stroke="#1d741d" stroke-width="1.8" stroke-linecap="round"/>
<line x1="752.5" y1="541.5" x2="758.5" y2="535.4" stroke="#1d741d" stroke-width="1.8" stroke-linecap="round"/>
<line x1="758.5" y1="535.4" x2="764.5" y2="533.3" stroke="#ac1e1e" stroke-width="1.8" stroke-linecap="round"/>
<line x1="764.5" y1="533.3" x2="770.5" y2="533" stroke="#ac1e1e" stroke-width="1.8" stroke-linecap="round"/>
<line x1="770.5" y1="533" x2="776.5" y2="528.3" stroke="#1d741d" stroke-width="1.8" stroke-linecap="round"/>
<line x1="776.5" y1="528.3" x2="782.5" y2="520.4" stroke="#1d741d" stroke-width="1.8" stroke-linecap="round"/>
<line x1="782.5" y1="520.4" x2="788.5" y2="512" stroke="#1d741d" stroke-width="1.8" stroke-linecap="round"/>
<line x1="788.5" y1="512" x2="794.5" y2="500.1" stroke="#1d741d" stroke-width="1.8" stroke-linecap="round"/>
<line x1="794.5" y1="500.1" x2="800.5" y2="488" stroke="#1d741d" stroke-width="1.8" stroke-linecap="round"/>
<line x1="800.5" y1="488" x2="806.5" y2="479" stroke="#1d741d" stroke-width="1.8" stroke-linecap="round"/>
<line x1="806.5" y1="479" x2="812.5" y2="468.8" stroke="#1d741d" stroke-width="1.8" stroke-linecap="round"/>
<line x1="812.5" y1="468.8" x2="818.5" y2="457.8" stroke="#1d741d" stroke-width="1.8" stroke-linecap="round"/>
<line x1="818.5" y1="457.8" x2="824.5" y2="446" stroke="#1d741d" stroke-width="1.8" stroke-linecap="round"/>
<line x1="824.5" y1="446" x2="830.5" y2="432.5" stroke="#1d741d" stroke-width="1.8" stroke-linecap="round"/>
<line x1="830.5" y1="432.5" x2="836.5" y2="418.4" stroke="#1d741d" stroke-width="1.8" stroke-linecap="round"/>
<line x1="836.5" y1="418.4" x2="842.5" y2="403.8" stroke="#1d741d" stroke-width="1.8" stroke-linecap="round"/>
<line x1="842.5" y1="403.8" x2="848.5" y2="389.4" stroke="#1d741d" stroke-width="1.8" stroke-linecap="round"/>
<line x1="848.5" y1="389.4" x2="854.5" y2="369.1" stroke="#1d741d" stroke-width="1.8" stroke-linecap="round"/>
<line x1="854.5" y1="369.1" x2="860.5" y2="348.9" stroke="#1d741d" stroke-width="1.8" stroke-linecap="round"/>
<line x1="860.5" y1="348.9" x2="866.5" y2="334.2" stroke="#1d741d" stroke-width="1.8" stroke-linecap="round"/>
<line x1="866.5" y1="334.2" x2="872.5" y2="317.1" stroke="#1d741d" stroke-width="1.8" stroke-linecap="round"/>
<line x1="872.5" y1="317.1" x2="878.5" y2="298.8" stroke="#1d741d" stroke-width="1.8" stroke-linecap="round"/>
<line x1="878.5" y1="298.8" x2="884.5" y2="279.6" stroke="#1d741d" stroke-width="1.8" stroke-linecap="round"/>
<line x1="884.5" y1="279.6" x2="890.5" y2="246.7" stroke="#1d741d" stroke-width="1.8" stroke-linecap="round"/>
<line x1="890.5" y1="246.7" x2="896.5" y2="210.6" stroke="#1d741d" stroke-width="1.8" stroke-linecap="round"/>
<line x1="896.5" y1="210.6" x2="902.5" y2="182.4" stroke="#1d741d" stroke-width="1.8" stroke-linecap="round"/>
<line x1="902.5" y1="182.4" x2="908.5" y2="184.1" stroke="#ac1e1e" stroke-width="1.8" stroke-linecap="round"/>
<line x1="908.5" y1="184.1" x2="914.5" y2="197" stroke="#ac1e1e" stroke-width="1.8" stroke-linecap="round"/>
<line x1="914.5" y1="197" x2="920.5" y2="223.5" stroke="#ac1e1e" stroke-width="1.8" stroke-linecap="round"/>
<line x1="920.5" y1="223.5" x2="926.5" y2="248.8" stroke="#ac1e1e" stroke-width="1.8" stroke-linecap="round"/>
<line x1="926.5" y1="248.8" x2="932.5" y2="291.8" stroke="#ac1e1e" stroke-width="1.8" stroke-linecap="round"/>
<line x1="932.5" y1="291.8" x2="938.5" y2="312.1" stroke="#ac1e1e" stroke-width="1.8" stroke-linecap="round"/>
<line x1="938.5" y1="312.1" x2="944.5" y2="331.4" stroke="#ac1e1e" stroke-width="1.8" stroke-linecap="round"/>
<line x1="944.5" y1="331.4" x2="950.5" y2="339.7" stroke="#1d741d" stroke-width="1.8" stroke-linecap="round"/>
<line x1="950.5" y1="339.7" x2="956.5" y2="349.2" stroke="#1d741d" stroke-width="1.8" stroke-linecap="round"/>
<line x1="956.5" y1="349.2" x2="962.5" y2="346.5" stroke="#1d741d" stroke-width="1.8" stroke-linecap="round"/>
<line x1="962.5" y1="346.5" x2="968.5" y2="348.8" stroke="#ac1e1e" stroke-width="1.8" stroke-linecap="round"/>
<line x1="968.5" y1="348.8" x2="974.5" y2="348.6" stroke="#ac1e1e" stroke-width="1.8" stroke-linecap="round"/>
<line x1="974.5" y1="348.6" x2="980.5" y2="354.2" stroke="#1d741d" stroke-width="1.8" stroke-linecap="round"/>
<line x1="980.5" y1="354.2" x2="986.5" y2="356.9" stroke="#1d741d" stroke-width="1.8" stroke-linecap="round"/>
<line x1="986.5" y1="356.9" x2="992.5" y2="344.1" stroke="#1d741d" stroke-width="1.8" stroke-linecap="round"/>
<line x1="992.5" y1="344.1" x2="998.5" y2="321.5" stroke="#1d741d" stroke-width="1.8" stroke-linecap="round"/>
<line x1="998.5" y1="321.5" x2="1004.5" y2="291" stroke="#1d741d" stroke-width="1.8" stroke-linecap="round"/>
<line x1="1004.5" y1="291" x2="1010.5" y2="265.7" stroke="#1d741d" stroke-width="1.8" stroke-linecap="round"/>
<line x1="1010.5" y1="265.7" x2="1016.5" y2="256.6" stroke="#ac1e1e" stroke-width="1.8" stroke-linecap="round"/>
<line x1="1016.5" y1="256.6" x2="1022.5" y2="264.9" stroke="#ac1e1e" stroke-width="1.8" stroke-linecap="round"/>
<line x1="1022.5" y1="264.9" x2="1028.5" y2="274.5" stroke="#ac1e1e" stroke-width="1.8" stroke-linecap="round"/>
<line x1="1028.5" y1="274.5" x2="1034.5" y2="289.4" stroke="#ac1e1e" stroke-width="1.8" stroke-linecap="round"/>
<line x1="1034.5" y1="289.4" x2="1040.5" y2="303.8" stroke="#1d741d" stroke-width="1.8" stroke-linecap="round"/>
<rect x="74" y="119.4" width="4.5" height="7" fill="rgb(93,193,113)" fill-opacity="0.3"/>
<rect x="78.5" y="119.4" width="4.3" height="7" fill="rgb(247,80,80)" fill-opacity="0.3"/>
<rect x="74" y="127.5" width="5.4" height="7" fill="rgb(93,193,113)" fill-opacity="0.3"/>
<rect x="79.4" y="127.5" width="9.3" height="7" fill="rgb(247,80,80)" fill-opacity="0.3"/>
<rect x="74" y="135.6" width="7.9" height="7" fill="rgb(93,193,113)" fill-opacity="0.3"/>
<rect x="81.9" y="135.6" width="12.8" height="7" fill="rgb(247,80,80)" fill-opacity="0.3"/>
<rect x="74" y="143.6" width="7" height="7" fill="rgb(93,193,113)" fill-opacity="0.3"/>
<rect x="81" y="143.6" width="15.9" height="7" fill="rgb(247,80,80)" fill-opacity="0.3"/>
<rect x="74" y="151.7" width="11.3" height="7" fill="rgb(93,193,113)" fill-opacity="0.3"/>
<rect x="85.3" y="151.7" width="12.4" height="7" fill="rgb(247,80,80)" fill-opacity="0.3"/>
<rect x="74" y="159.8" width="8.8" height="7" fill="rgb(93,193,113)" fill-opacity="0.3"/>
<rect x="82.8" y="159.8" width="9.3" height="7" fill="rgb(247,80,80)" fill-opacity="0.3"/>
<rect x="74" y="167.9" width="10.5" height="7" fill="rgb(93,193,113)" fill-opacity="0.3"/>
<rect x="84.5" y="167.9" width="8.1" height="7" fill="rgb(247,80,80)" fill-opacity="0.3"/>
<rect x="74" y="176" width="10.5" height="7" fill="rgb(93,193,113)" fill-opacity="0.3"/>
<rect x="84.5" y="176" width="8.1" height="7" fill="rgb(247,80,80)" fill-opacity="0.3"/>
<rect x="74" y="184" width="14.7" height="7" fill="rgb(93,193,113)" fill-opacity="0.3"/>
<rect x="88.7" y="184" width="14.5" height="7" fill="rgb(247,80,80)" fill-opacity="0.3"/>
<rect x="74" y="192.1" width="17.3" height="7" fill="rgb(93,193,113)" fill-opacity="0.3"/>
<rect x="91.3" y="192.1" width="14.4" height="7" fill="rgb(247,80,80)" fill-opacity="0.3"/>
<rect x="74" y="200.2" width="24" height="7" fill="rgb(93,193,113)" fill-opacity="0.3"/>
<rect x="98" y="200.2" width="12.8" height="7" fill="rgb(247,80,80)" fill-opacity="0.3"/>
<rect x="74" y="208.3" width="20.7" height="7" fill="rgb(93,193,113)" fill-opacity="0.3"/>
<rect x="94.7" y="208.3" width="13.1" height="7" fill="rgb(247,80,80)" fill-opacity="0.3"/>
<rect x="74" y="216.4" width="29.2" height="7" fill="rgb(93,193,113)" fill-opacity="0.3"/>
<rect x="103.2" y="216.4" width="32.3" height="7" fill="rgb(247,80,80)" fill-opacity="0.3"/>
<rect x="74" y="224.4" width="23.2" height="7" fill="rgb(93,193,113)" fill-opacity="0.3"/>
<rect x="97.2" y="224.4" width="35.7" height="7" fill="rgb(247,80,80)" fill-opacity="0.3"/>
<rect x="74" y="232.5" width="20.7" height="7" fill="rgb(93,193,113)" fill-opacity="0.3"/>
<rect x="94.7" y="232.5" width="28.9" height="7" fill="rgb(247,80,80)" fill-opacity="0.3"/>
<rect x="74" y="240.6" width="10.5" height="7" fill="rgb(93,193,113)" fill-opacity="0.3"/>
<rect x="84.5" y="240.6" width="21.2" height="7" fill="rgb(247,80,80)" fill-opacity="0.3"/>
<rect x="74" y="248.7" width="21.5" height="7" fill="rgb(93,193,113)" fill-opacity="0.3"/>
<rect x="95.5" y="248.7" width="30.3" height="7" fill="rgb(247,80,80)" fill-opacity="0.3"/>
<rect x="74" y="256.8" width="50.4" height="7" fill="rgb(93,193,113)" fill-opacity="0.3"/>
<rect x="124.4" y="256.8" width="44.2" height="7" fill="rgb(247,80,80)" fill-opacity="0.3"/>
<rect x="74" y="264.8" width="59.8" height="7" fill="rgb(93,193,113)" fill-opacity="0.3"/>
<rect x="133.8" y="264.8" width="46.4" height="7" fill="rgb(247,80,80)" fill-opacity="0.3"/>
<rect x="74" y="272.9" width="71.7" height="7" fill="rgb(93,193,113)" fill-opacity="0.3"/>
<rect x="145.7" y="272.9" width="45" height="7" fill="rgb(247,80,80)" fill-opacity="0.3"/>
<rect x="74" y="281" width="61.5" height="7" fill="rgb(93,193,113)" fill-opacity="0.3"/>
<rect x="135.5" y="281" width="32.8" height="7" fill="rgb(247,80,80)" fill-opacity="0.3"/>
<rect x="74" y="289.1" width="71.7" height="7" fill="rgb(93,193,113)" fill-opacity="0.3"/>
<rect x="145.7" y="289.1" width="53.2" height="7" fill="rgb(247,80,80)" fill-opacity="0.3"/>
<rect x="74" y="297.2" width="47" height="7" fill="rgb(93,193,113)" fill-opacity="0.3"/>
<rect x="121" y="297.2" width="47.6" height="7" fill="rgb(247,80,80)" fill-opacity="0.3"/>
<rect x="74" y="305.2" width="38.5" height="7" fill="rgb(93,193,113)" fill-opacity="0.3"/>
<rect x="112.5" y="305.2" width="41.3" height="7" fill="rgb(247,80,80)" fill-opacity="0.3"/>
<rect x="74" y="313.3" width="30.9" height="7" fill="rgb(93,193,113)" fill-opacity="0.3"/>
<rect x="104.9" y="313.3" width="48.9" height="7" fill="rgb(247,80,80)" fill-opacity="0.3"/>
<rect x="74" y="321.4" width="47.9" height="7" fill="rgb(93,193,113)" fill-opacity="0.3"/>
<rect x="121.9" y="321.4" width="68.8" height="7" fill="rgb(247,80,80)" fill-opacity="0.3"/>
<rect x="74" y="329.5" width="71.7" height="7" fill="rgb(93,193,113)" fill-opacity="0.3"/>
<rect x="145.7" y="329.5" width="70.6" height="7" fill="rgb(247,80,80)" fill-opacity="0.3"/>
<rect x="74" y="337.6" width="64" height="7" fill="rgb(93,193,113)" fill-opacity="0.3"/>
<rect x="138" y="337.6" width="78" height="7" fill="rgb(247,80,80)" fill-opacity="0.3"/>
<rect x="74" y="345.6" width="70" height="7" fill="rgb(93,193,113)" fill-opacity="0.3"/>
<rect x="144" y="345.6" width="64.6" height="7" fill="rgb(247,80,80)" fill-opacity="0.3"/>
<rect x="74" y="353.7" width="62.3" height="7" fill="rgb(93,193,113)" fill-opacity="0.3"/>
<rect x="136.3" y="353.7" width="46.7" height="7" fill="rgb(247,80,80)" fill-opacity="0.3"/>
<rect x="74" y="361.8" width="36" height="7" fill="rgb(93,193,113)" fill-opacity="0.3"/>
<rect x="110" y="361.8" width="31.8" height="7" fill="rgb(247,80,80)" fill-opacity="0.3"/>
<rect x="74" y="369.9" width="36" height="7" fill="rgb(93,193,113)" fill-opacity="0.3"/>
<rect x="110" y="369.9" width="19.5" height="7" fill="rgb(247,80,80)" fill-opacity="0.3"/>
<rect x="74" y="378" width="18" height="7" fill="rgb(93,193,113)" fill-opacity="0.3"/>
<rect x="92" y="378" width="5.2" height="7" fill="rgb(247,80,80)" fill-opacity="0.3"/>
<rect x="74" y="386" width="4.5" height="7" fill="rgb(93,193,113)" fill-opacity="0.3"/>
<rect x="78.5" y="386" width="5.5" height="7" fill="rgb(247,80,80)" fill-opacity="0.3"/>
<rect x="74" y="394.1" width="5.4" height="7" fill="rgb(93,193,113)" fill-opacity="0.3"/>
<rect x="79.4" y="394.1" width="9.3" height="7" fill="rgb(247,80,80)" fill-opacity="0.3"/>
<rect x="74" y="402.2" width="12.2" height="7" fill="rgb(93,193,113)" fill-opacity="0.3"/>
<rect x="86.2" y="402.2" width="22.6" height="7" fill="rgb(247,80,80)" fill-opacity="0.3"/>
<rect x="74" y="410.3" width="23.2" height="7" fill="rgb(93,193,113)" fill-opacity="0.3"/>
<rect x="97.2" y="410.3" width="27.2" height="7" fill="rgb(247,80,80)" fill-opacity="0.3"/>
<rect x="74" y="418.4" width="22.4" height="7" fill="rgb(93,193,113)" fill-opacity="0.3"/>
<rect x="96.4" y="418.4" width="11.4" height="7" fill="rgb(247,80,80)" fill-opacity="0.3"/>
<rect x="74" y="426.4" width="12.2" height="7" fill="rgb(93,193,113)" fill-opacity="0.3"/>
<rect x="86.2" y="426.4" width="7.6" height="7" fill="rgb(247,80,80)" fill-opacity="0.3"/>
<rect x="74" y="434.5" width="27.5" height="7" fill="rgb(93,193,113)" fill-opacity="0.3"/>
<rect x="101.5" y="434.5" width="7.3" height="7" fill="rgb(247,80,80)" fill-opacity="0.3"/>
<rect x="74" y="442.6" width="10.5" height="7" fill="rgb(93,193,113)" fill-opacity="0.3"/>
<rect x="84.5" y="442.6" width="9.3" height="7" fill="rgb(247,80,80)" fill-opacity="0.3"/>
<rect x="74" y="450.7" width="5.4" height="7" fill="rgb(93,193,113)" fill-opacity="0.3"/>
<rect x="79.4" y="450.7" width="1.6" height="7" fill="rgb(247,80,80)" fill-opacity="0.3"/>
<rect x="74" y="458.8" width="12.2" height="7" fill="rgb(93,193,113)" fill-opacity="0.3"/>
<rect x="86.2" y="458.8" width="20.8" height="7" fill="rgb(247,80,80)" fill-opacity="0.3"/>
<rect x="74" y="466.8" width="18" height="7" fill="rgb(93,193,113)" fill-opacity="0.3"/>
<rect x="92" y="466.8" width="27" height="7" fill="rgb(247,80,80)" fill-opacity="0.3"/>
<rect x="74" y="474.9" width="23.2" height="7" fill="rgb(93,193,113)" fill-opacity="0.3"/>
<rect x="97.2" y="474.9" width="19.6" height="7" fill="rgb(247,80,80)" fill-opacity="0.3"/>
<rect x="74" y="483" width="30" height="7" fill="rgb(93,193,113)" fill-opacity="0.3"/>
<rect x="104" y="483" width="15" height="7" fill="rgb(247,80,80)" fill-opacity="0.3"/>
<rect x="74" y="491.1" width="13" height="7" fill="rgb(93,193,113)" fill-opacity="0.3"/>
<rect x="87" y="491.1" width="10.2" height="7" fill="rgb(247,80,80)" fill-opacity="0.3"/>
<rect x="74" y="499.2" width="2" height="7" fill="rgb(93,193,113)" fill-opacity="0.3"/>
<rect x="76" y="499.2" width="5" height="7" fill="rgb(247,80,80)" fill-opacity="0.3"/>
<rect x="74" y="507.2" width="9.6" height="7" fill="rgb(93,193,113)" fill-opacity="0.3"/>
<rect x="83.6" y="507.2" width="19.6" height="7" fill="rgb(247,80,80)" fill-opacity="0.3"/>
<rect x="74" y="515.3" width="31.7" height="7" fill="rgb(93,193,113)" fill-opacity="0.3"/>
<rect x="105.7" y="515.3" width="23" height="7" fill="rgb(247,80,80)" fill-opacity="0.3"/>
<rect x="74" y="523.4" width="23.2" height="7" fill="rgb(93,193,113)" fill-opacity="0.3"/>
<rect x="97.2" y="523.4" width="20.8" height="7" fill="rgb(247,80,80)" fill-opacity="0.3"/>
<rect x="74" y="531.5" width="42.8" height="7" fill="rgb(93,193,113)" fill-opacity="0.3"/>
<rect x="116.8" y="531.5" width="39.1" height="7" fill="rgb(247,80,80)" fill-opacity="0.3"/>
<rect x="74" y="539.6" width="74.2" height="7" fill="rgb(93,193,113)" fill-opacity="0.3"/>
<rect x="148.2" y="539.6" width="50.7" height="7" fill="rgb(247,80,80)" fill-opacity="0.3"/>
<rect x="74" y="547.6" width="25.8" height="7" fill="rgb(93,193,113)" fill-opacity="0.3"/>
<rect x="99.8" y="547.6" width="14.1" height="7" fill="rgb(247,80,80)" fill-opacity="0.3"/>
<rect x="74" y="555.7" width="7" height="7" fill="rgb(93,193,113)" fill-opacity="0.3"/>
<rect x="81" y="555.7" width="3.5" height="7" fill="rgb(247,80,80)" fill-opacity="0.3"/>
<rect x="74" y="563.8" width="10.5" height="7" fill="rgb(93,193,113)" fill-opacity="0.3"/>
<rect x="84.5" y="563.8" width="7.5" height="7" fill="rgb(247,80,80)" fill-opacity="0.3"/>
<rect x="74" y="571.9" width="16.4" height="7" fill="rgb(93,193,113)" fill-opacity="0.3"/>
<rect x="90.4" y="571.9" width="7.6" height="7" fill="rgb(247,80,80)" fill-opacity="0.3"/>
<rect x="74" y="580" width="12.2" height="7" fill="rgb(93,193,113)" fill-opacity="0.3"/>
<rect x="86.2" y="580" width="5.1" height="7" fill="rgb(247,80,80)" fill-opacity="0.3"/>
<rect x="74" y="588" width="24" height="7" fill="rgb(93,193,113)" fill-opacity="0.3"/>
<rect x="98" y="588" width="12" height="7" fill="rgb(247,80,80)" fill-opacity="0.3"/>
<rect x="74" y="596.1" width="25.8" height="7" fill="rgb(93,193,113)" fill-opacity="0.3"/>
<rect x="99.8" y="596.1" width="14.1" height="7" fill="rgb(247,80,80)" fill-opacity="0.3"/>
<rect x="74" y="604.2" width="13.9" height="7" fill="rgb(93,193,113)" fill-opacity="0.3"/>
<rect x="87.9" y="604.2" width="5.1" height="7" fill="rgb(247,80,80)" fill-opacity="0.3"/>
<rect x="74" y="612.3" width="5.9" height="7" fill="rgb(93,193,113)" fill-opacity="0.3"/>
<rect x="74" y="620.4" width="7.9" height="7" fill="rgb(93,193,113)" fill-opacity="0.3"/>
<rect x="81.9" y="620.4" width="6.5" height="7" fill="rgb(247,80,80)" fill-opacity="0.3"/>
<rect x="74" y="628.4" width="18" height="7" fill="rgb(93,193,113)" fill-opacity="0.3"/>
<rect x="92" y="628.4" width="10" height="7" fill="rgb(247,80,80)" fill-opacity="0.3"/>
<rect x="74" y="636.5" width="14.7" height="7" fill="rgb(93,193,113)" fill-opacity="0.3"/>
<rect x="88.7" y="636.5" width="9.3" height="7" fill="rgb(247,80,80)" fill-opacity="0.3"/>
<rect x="74" y="644.6" width="7.9" height="7" fill="rgb(93,193,113)" fill-opacity="0.3"/>
<rect x="81.9" y="644.6" width="4.3" height="7" fill="rgb(247,80,80)" fill-opacity="0.3"/>
<rect x="74" y="652.7" width="23.2" height="7" fill="rgb(93,193,113)" fill-opacity="0.3"/>
<rect x="97.2" y="652.7" width="8.8" height="7" fill="rgb(247,80,80)" fill-opacity="0.3"/>
<rect x="74" y="660.8" width="34" height="7" fill="rgb(93,193,113)" fill-opacity="0.3"/>
<rect x="108" y="660.8" width="27" height="7" fill="rgb(247,80,80)" fill-opacity="0.3"/>
<rect x="74" y="668.8" width="37" height="7" fill="rgb(93,193,113)" fill-opacity="0.3"/>
<rect x="111" y="668.8" width="40.6" height="7" fill="rgb(247,80,80)" fill-opacity="0.3"/>
<rect x="74" y="676.9" width="67.8" height="7" fill="rgb(93,193,113)" fill-opacity="0.3"/>
<rect x="141.8" y="676.9" width="42.5" height="7" fill="rgb(247,80,80)" fill-opacity="0.3"/>
<rect x="74" y="685" width="126.6" height="7" fill="rgb(93,193,113)" fill-opacity="0.3"/>
<rect x="200.6" y="685" width="105.6" height="7" fill="rgb(247,80,80)" fill-opacity="0.3"/>
<rect x="74" y="693.1" width="144" height="7" fill="rgb(93,193,113)" fill-opacity="0.3"/>
<rect x="218" y="693.1" width="123" height="7" fill="rgb(247,80,80)" fill-opacity="0.3"/>
<rect x="74" y="701.2" width="146" height="7" fill="rgb(93,193,113)" fill-opacity="0.3"/>
<rect x="220" y="701.2" width="127" height="7" fill="rgb(247,80,80)" fill-opacity="0.3"/>
<rect x="74" y="709.2" width="151" height="7" fill="rgb(93,193,113)" fill-opacity="0.3"/>
<rect x="225" y="709.2" width="191" height="7" fill="rgb(247,80,80)" fill-opacity="0.3"/>
<rect x="74" y="717.3" width="154" height="7" fill="rgb(93,193,113)" fill-opacity="0.3"/>
<rect x="228" y="717.3" width="189.5" height="7" fill="rgb(247,80,80)" fill-opacity="0.3"/>
<rect x="74" y="725.4" width="136" height="7" fill="rgb(93,193,113)" fill-opacity="0.3"/>
<rect x="210" y="725.4" width="112.9" height="7" fill="rgb(247,80,80)" fill-opacity="0.3"/>
<rect x="74" y="733.5" width="86" height="7" fill="rgb(93,193,113)" fill-opacity="0.3"/>
<rect x="160" y="733.5" width="119.3" height="7" fill="rgb(247,80,80)" fill-opacity="0.3"/>
<rect x="74" y="741.6" width="33" height="7" fill="rgb(93,193,113)" fill-opacity="0.3"/>
<rect x="107" y="741.6" width="118" height="7" fill="rgb(247,80,80)" fill-opacity="0.3"/>
<rect x="74" y="749.6" width="26" height="7" fill="rgb(93,193,113)" fill-opacity="0.3"/>
<rect x="100" y="749.6" width="47.9" height="7" fill="rgb(247,80,80)" fill-opacity="0.3"/>
<rect x="74" y="757.7" width="18.7" height="7" fill="rgb(93,193,113)" fill-opacity="0.3"/>
<rect x="92.7" y="757.7" width="26" height="7" fill="rgb(247,80,80)" fill-opacity="0.3"/>
<rect x="74" y="765.8" width="26" height="7" fill="rgb(93,193,113)" fill-opacity="0.3"/>
<rect x="100" y="765.8" width="37.3" height="7" fill="rgb(247,80,80)" fill-opacity="0.3"/>
<rect x="74" y="773.9" width="31" height="7" fill="rgb(93,193,113)" fill-opacity="0.3"/>
<rect x="105" y="773.9" width="54.2" height="7" fill="rgb(247,80,80)" fill-opacity="0.3"/>
<rect x="74" y="782" width="26" height="7" fill="rgb(93,193,113)" fill-opacity="0.3"/>
<rect x="100" y="782" width="52" height="7" fill="rgb(247,80,80)" fill-opacity="0.3"/>
<rect x="74" y="790" width="16" height="7" fill="rgb(93,193,113)" fill-opacity="0.3"/>
<rect x="90" y="790" width="14" height="7" fill="rgb(247,80,80)" fill-opacity="0.3"/>
<rect x="74" y="798.1" width="15.5" height="7" fill="rgb(93,193,113)" fill-opacity="0.3"/>
<rect x="89.5" y="798.1" width="6.5" height="7" fill="rgb(247,80,80)" fill-opacity="0.3"/>
<rect x="74" y="806.2" width="15.5" height="7" fill="rgb(93,193,113)" fill-opacity="0.3"/>
<rect x="89.5" y="806.2" width="4.8" height="7" fill="rgb(247,80,80)" fill-opacity="0.3"/>
<rect x="74" y="814.3" width="7.4" height="7" fill="rgb(93,193,113)" fill-opacity="0.3"/>
<rect x="74" y="822.4" width="7.4" height="7" fill="rgb(93,193,113)" fill-opacity="0.3"/>
<rect x="74" y="830.4" width="9" height="7" fill="rgb(93,193,113)" fill-opacity="0.3"/>
<rect x="74" y="838.5" width="9" height="7" fill="rgb(93,193,113)" fill-opacity="0.3"/>
<rect x="74" y="846.6" width="5.7" height="7" fill="rgb(93,193,113)" fill-opacity="0.3"/>
<rect x="74" y="854.7" width="5.7" height="7" fill="rgb(93,193,113)" fill-opacity="0.3"/>
<rect x="79.7" y="854.7" width="1.3" height="7" fill="rgb(247,80,80)" fill-opacity="0.3"/>
<rect x="74" y="862.8" width="5.7" height="7" fill="rgb(93,193,113)" fill-opacity="0.3"/>
<rect x="74" y="870.8" width="4" height="7" fill="rgb(93,193,113)" fill-opacity="0.3"/>
<rect x="74" y="878.9" width="4" height="7" fill="rgb(93,193,113)" fill-opacity="0.3"/>
<rect x="74" y="887" width="5.7" height="7" fill="rgb(93,193,113)" fill-opacity="0.3"/>
<rect x="74" y="895.1" width="5.7" height="7" fill="rgb(93,193,113)" fill-opacity="0.3"/>
<rect x="79.7" y="895.1" width="6.5" height="7" fill="rgb(247,80,80)" fill-opacity="0.3"/>
<rect x="74" y="903.2" width="10" height="7" fill="rgb(93,193,113)" fill-opacity="0.3"/>
<rect x="84" y="903.2" width="10.3" height="7" fill="rgb(247,80,80)" fill-opacity="0.3"/>
<rect x="74" y="911.2" width="6" height="7" fill="rgb(93,193,113)" fill-opacity="0.3"/>
<rect x="80" y="911.2" width="7" height="7" fill="rgb(247,80,80)" fill-opacity="0.3"/>
<rect x="74" y="919.3" width="5.7" height="7" fill="rgb(93,193,113)" fill-opacity="0.3"/>
<rect x="74" y="927.4" width="4" height="7" fill="rgb(93,193,113)" fill-opacity="0.3"/>
<rect x="78" y="927.4" width="2" height="7" fill="rgb(247,80,80)" fill-opacity="0.3"/>
<line x1="74" y1="346" x2="1226" y2="346" stroke="#d8847c" stroke-width="2" stroke-dasharray="2,4"/>
<line x1="74" y1="723.5" x2="1226" y2="723.5" stroke="#dcc088" stroke-width="2" stroke-dasharray="2,4"/>
<line x1="74" y1="825" x2="1226" y2="825" stroke="#8cc08c" stroke-width="2" stroke-dasharray="2,4"/>
<text x="948" y="161.2" font-size="13" fill="#9c9c9c" text-anchor="end" letter-spacing="0.15">R1 (4,316.66)</text>
<line x1="962" y1="156.5" x2="1082" y2="156.5" stroke="#c8c8c8" stroke-width="1"/>
<text x="948" y="304.2" font-size="13" fill="#9c9c9c" text-anchor="end" letter-spacing="0.15">P (4,068)</text>
<line x1="962" y1="299.5" x2="1082" y2="299.5" stroke="#c8c8c8" stroke-width="1"/>
<text x="948" y="484.2" font-size="13" fill="#9c9c9c" text-anchor="end" letter-spacing="0.15">S1 (3,754.49)</text>
<line x1="962" y1="479.5" x2="1082" y2="479.5" stroke="#c8c8c8" stroke-width="1"/>
<text x="948" y="627.2" font-size="13" fill="#9c9c9c" text-anchor="end" letter-spacing="0.15">S2 (3,505.83)</text>
<line x1="962" y1="622.5" x2="1082" y2="622.5" stroke="#c8c8c8" stroke-width="1"/>
<text x="948" y="807.2" font-size="13" fill="#9c9c9c" text-anchor="end" letter-spacing="0.15">S3 (3,192.32)</text>
<line x1="962" y1="802.5" x2="1082" y2="802.5" stroke="#c8c8c8" stroke-width="1"/>
<line x1="134" y1="625.5" x2="680" y2="675" stroke="#8e8e8e" stroke-width="1.5"/>
<line x1="134" y1="870" x2="712" y2="720.5" stroke="#8e8e8e" stroke-width="1.5"/>
<line x1="74.5" y1="900" x2="74.5" y2="928" stroke="#fff" stroke-width="1"/>
<line x1="80.5" y1="856" x2="80.5" y2="930" stroke="#fff" stroke-width="1"/>
<line x1="86.5" y1="812" x2="86.5" y2="872" stroke="#fff" stroke-width="1"/>
<line x1="92.5" y1="772" x2="92.5" y2="813" stroke="#fff" stroke-width="1"/>
<line x1="98.5" y1="772" x2="98.5" y2="802" stroke="#fff" stroke-width="1"/>
<line x1="104.5" y1="780" x2="104.5" y2="793" stroke="#fff" stroke-width="1"/>
<line x1="110.5" y1="715" x2="110.5" y2="783" stroke="#fff" stroke-width="1"/>
<line x1="116.5" y1="708" x2="116.5" y2="750" stroke="#fff" stroke-width="1"/>
<line x1="122.5" y1="666" x2="122.5" y2="726" stroke="#fff" stroke-width="1"/>
<line x1="128.5" y1="626" x2="128.5" y2="701" stroke="#fff" stroke-width="1"/>
<line x1="134.5" y1="691" x2="134.5" y2="763" stroke="#fff" stroke-width="1"/>
<line x1="140.5" y1="702.5" x2="140.5" y2="757.6" stroke="#fff" stroke-width="1"/>
<line x1="146.5" y1="700" x2="146.5" y2="759" stroke="#fff" stroke-width="1"/>
<line x1="152.5" y1="710" x2="152.5" y2="757.6" stroke="#fff" stroke-width="1"/>
<line x1="158.5" y1="713" x2="158.5" y2="740.6" stroke="#fff" stroke-width="1"/>
<line x1="164.5" y1="724.8" x2="164.5" y2="759" stroke="#fff" stroke-width="1"/>
<line x1="170.5" y1="745.8" x2="170.5" y2="795.7" stroke="#fff" stroke-width="1"/>
<line x1="176.5" y1="759" x2="176.5" y2="784" stroke="#fff" stroke-width="1"/>
<line x1="182.5" y1="719" x2="182.5" y2="776.6" stroke="#fff" stroke-width="1"/>
<line x1="188.5" y1="663" x2="188.5" y2="726" stroke="#fff" stroke-width="1"/>
<line x1="194.5" y1="665" x2="194.5" y2="705" stroke="#fff" stroke-width="1"/>
<line x1="200.5" y1="675" x2="200.5" y2="747" stroke="#fff" stroke-width="1"/>
<line x1="206.5" y1="714" x2="206.5" y2="755" stroke="#fff" stroke-width="1"/>
<line x1="212.5" y1="724" x2="212.5" y2="794" stroke="#fff" stroke-width="1"/>
<line x1="218.5" y1="761" x2="218.5" y2="788" stroke="#fff" stroke-width="1"/>
<line x1="224.5" y1="766" x2="224.5" y2="817" stroke="#fff" stroke-width="1"/>
<line x1="230.5" y1="775" x2="230.5" y2="843" stroke="#fff" stroke-width="1"/>
<line x1="236.5" y1="768" x2="236.5" y2="824.7" stroke="#fff" stroke-width="1"/>
<line x1="242.5" y1="770" x2="242.5" y2="800.7" stroke="#fff" stroke-width="1"/>
<line x1="248.5" y1="742.8" x2="248.5" y2="795" stroke="#fff" stroke-width="1"/>
<line x1="254.5" y1="727" x2="254.5" y2="749" stroke="#fff" stroke-width="1"/>
<line x1="260.5" y1="715" x2="260.5" y2="752.8" stroke="#fff" stroke-width="1"/>
<line x1="266.5" y1="703" x2="266.5" y2="747" stroke="#fff" stroke-width="1"/>
<line x1="272.5" y1="707" x2="272.5" y2="726.6" stroke="#fff" stroke-width="1"/>
<line x1="278.5" y1="712" x2="278.5" y2="748" stroke="#fff" stroke-width="1"/>
<line x1="284.5" y1="726.6" x2="284.5" y2="754.4" stroke="#fff" stroke-width="1"/>
<line x1="290.5" y1="723.5" x2="290.5" y2="771.4" stroke="#fff" stroke-width="1"/>
<line x1="296.5" y1="728" x2="296.5" y2="756.7" stroke="#fff" stroke-width="1"/>
<line x1="302.5" y1="693" x2="302.5" y2="748" stroke="#fff" stroke-width="1"/>
<line x1="308.5" y1="688" x2="308.5" y2="721" stroke="#fff" stroke-width="1"/>
<line x1="314.5" y1="692.5" x2="314.5" y2="715.7" stroke="#fff" stroke-width="1"/>
<line x1="320.5" y1="681.4" x2="320.5" y2="717.3" stroke="#fff" stroke-width="1"/>
<line x1="326.5" y1="697" x2="326.5" y2="736.6" stroke="#fff" stroke-width="1"/>
<line x1="332.5" y1="719.6" x2="332.5" y2="744.3" stroke="#fff" stroke-width="1"/>
<line x1="338.5" y1="713.4" x2="338.5" y2="739" stroke="#fff" stroke-width="1"/>
<line x1="344.5" y1="706.5" x2="344.5" y2="731" stroke="#fff" stroke-width="1"/>
<line x1="350.5" y1="684" x2="350.5" y2="718.8" stroke="#fff" stroke-width="1"/>
<line x1="356.5" y1="656" x2="356.5" y2="694" stroke="#fff" stroke-width="1"/>
<line x1="362.5" y1="654" x2="362.5" y2="692.5" stroke="#fff" stroke-width="1"/>
<line x1="368.5" y1="681" x2="368.5" y2="702.7" stroke="#fff" stroke-width="1"/>
<line x1="374.5" y1="683.4" x2="374.5" y2="704.7" stroke="#fff" stroke-width="1"/>
<line x1="380.5" y1="690" x2="380.5" y2="713.5" stroke="#fff" stroke-width="1"/>
<line x1="386.5" y1="698" x2="386.5" y2="717.4" stroke="#fff" stroke-width="1"/>
<line x1="392.5" y1="687" x2="392.5" y2="713.5" stroke="#fff" stroke-width="1"/>
<line x1="398.5" y1="701" x2="398.5" y2="743.6" stroke="#fff" stroke-width="1"/>
<line x1="404.5" y1="719" x2="404.5" y2="733.6" stroke="#fff" stroke-width="1"/>
<line x1="410.5" y1="712" x2="410.5" y2="734.4" stroke="#fff" stroke-width="1"/>
<line x1="416.5" y1="725" x2="416.5" y2="765.3" stroke="#fff" stroke-width="1"/>
<line x1="422.5" y1="739" x2="422.5" y2="771.5" stroke="#fff" stroke-width="1"/>
<line x1="428.5" y1="707.3" x2="428.5" y2="739.8" stroke="#fff" stroke-width="1"/>
<line x1="434.5" y1="705.8" x2="434.5" y2="723.6" stroke="#fff" stroke-width="1"/>
<line x1="440.5" y1="703.5" x2="440.5" y2="733.6" stroke="#fff" stroke-width="1"/>
<line x1="446.5" y1="715.5" x2="446.5" y2="726.6" stroke="#fff" stroke-width="1"/>
<line x1="452.5" y1="716" x2="452.5" y2="742.9" stroke="#fff" stroke-width="1"/>
<line x1="458.5" y1="714" x2="458.5" y2="747.5" stroke="#fff" stroke-width="1"/>
<line x1="464.5" y1="730.5" x2="464.5" y2="750.6" stroke="#fff" stroke-width="1"/>
<line x1="470.5" y1="722.8" x2="470.5" y2="734.4" stroke="#fff" stroke-width="1"/>
<line x1="476.5" y1="701" x2="476.5" y2="727.4" stroke="#fff" stroke-width="1"/>
<line x1="482.5" y1="698" x2="482.5" y2="717.4" stroke="#fff" stroke-width="1"/>
<line x1="488.5" y1="703.5" x2="488.5" y2="729" stroke="#fff" stroke-width="1"/>
<line x1="494.5" y1="695.7" x2="494.5" y2="729.7" stroke="#fff" stroke-width="1"/>
<line x1="500.5" y1="711" x2="500.5" y2="734.4" stroke="#fff" stroke-width="1"/>
<line x1="506.5" y1="706.6" x2="506.5" y2="723.6" stroke="#fff" stroke-width="1"/>
<line x1="512.5" y1="681.8" x2="512.5" y2="715" stroke="#fff" stroke-width="1"/>
<line x1="518.5" y1="664" x2="518.5" y2="692.6" stroke="#fff" stroke-width="1"/>
<line x1="524.5" y1="661" x2="524.5" y2="692" stroke="#fff" stroke-width="1"/>
<line x1="530.5" y1="687" x2="530.5" y2="710.4" stroke="#fff" stroke-width="1"/>
<line x1="536.5" y1="699" x2="536.5" y2="726.6" stroke="#fff" stroke-width="1"/>
<line x1="542.5" y1="715" x2="542.5" y2="739.8" stroke="#fff" stroke-width="1"/>
<line x1="548.5" y1="721" x2="548.5" y2="736" stroke="#fff" stroke-width="1"/>
<line x1="554.5" y1="721" x2="554.5" y2="758.3" stroke="#fff" stroke-width="1"/>
<line x1="560.5" y1="732" x2="560.5" y2="756" stroke="#fff" stroke-width="1"/>
<line x1="566.5" y1="705" x2="566.5" y2="750.6" stroke="#fff" stroke-width="1"/>
<line x1="572.5" y1="691.9" x2="572.5" y2="714.3" stroke="#fff" stroke-width="1"/>
<line x1="578.5" y1="689" x2="578.5" y2="711.2" stroke="#fff" stroke-width="1"/>
<line x1="584.5" y1="691.9" x2="584.5" y2="706.6" stroke="#fff" stroke-width="1"/>
<line x1="590.5" y1="681.8" x2="590.5" y2="702.7" stroke="#fff" stroke-width="1"/>
<line x1="596.5" y1="678.7" x2="596.5" y2="696.5" stroke="#fff" stroke-width="1"/>
<line x1="602.5" y1="679.5" x2="602.5" y2="716.6" stroke="#fff" stroke-width="1"/>
<line x1="608.5" y1="707.3" x2="608.5" y2="722.8" stroke="#fff" stroke-width="1"/>
<line x1="614.5" y1="699.6" x2="614.5" y2="715" stroke="#fff" stroke-width="1"/>
<line x1="620.5" y1="698" x2="620.5" y2="723.6" stroke="#fff" stroke-width="1"/>
<line x1="626.5" y1="712.7" x2="626.5" y2="723.6" stroke="#fff" stroke-width="1"/>
<line x1="632.5" y1="707.3" x2="632.5" y2="726.6" stroke="#fff" stroke-width="1"/>
<line x1="638.5" y1="715" x2="638.5" y2="732.8" stroke="#fff" stroke-width="1"/>
<line x1="644.5" y1="712" x2="644.5" y2="735" stroke="#fff" stroke-width="1"/>
<line x1="650.5" y1="711.2" x2="650.5" y2="725" stroke="#fff" stroke-width="1"/>
<line x1="656.5" y1="695.7" x2="656.5" y2="729" stroke="#fff" stroke-width="1"/>
<line x1="662.5" y1="696.5" x2="662.5" y2="705.8" stroke="#fff" stroke-width="1"/>
<line x1="668.5" y1="687.2" x2="668.5" y2="710.4" stroke="#fff" stroke-width="1"/>
<line x1="674.5" y1="684" x2="674.5" y2="697" stroke="#fff" stroke-width="1"/>
<line x1="680.5" y1="670.5" x2="680.5" y2="691.7" stroke="#fff" stroke-width="1"/>
<line x1="686.5" y1="652.6" x2="686.5" y2="680.7" stroke="#fff" stroke-width="1"/>
<line x1="692.5" y1="632" x2="692.5" y2="661" stroke="#fff" stroke-width="1"/>
<line x1="698.5" y1="603.3" x2="698.5" y2="642.4" stroke="#fff" stroke-width="1"/>
<line x1="704.5" y1="581" x2="704.5" y2="610" stroke="#fff" stroke-width="1"/>
<line x1="710.5" y1="588.8" x2="710.5" y2="618.6" stroke="#fff" stroke-width="1"/>
<line x1="716.5" y1="568.4" x2="716.5" y2="602.4" stroke="#fff" stroke-width="1"/>
<line x1="722.5" y1="542" x2="722.5" y2="579.5" stroke="#fff" stroke-width="1"/>
<line x1="728.5" y1="525" x2="728.5" y2="554.8" stroke="#fff" stroke-width="1"/>
<line x1="734.5" y1="535" x2="734.5" y2="556.5" stroke="#fff" stroke-width="1"/>
<line x1="740.5" y1="540.4" x2="740.5" y2="560.8" stroke="#fff" stroke-width="1"/>
<line x1="746.5" y1="536" x2="746.5" y2="549.7" stroke="#fff" stroke-width="1"/>
<line x1="752.5" y1="519" x2="752.5" y2="553" stroke="#fff" stroke-width="1"/>
<line x1="758.5" y1="509" x2="758.5" y2="524.6" stroke="#fff" stroke-width="1"/>
<line x1="764.5" y1="506.4" x2="764.5" y2="541.2" stroke="#fff" stroke-width="1"/>
<line x1="770.5" y1="526" x2="770.5" y2="551.4" stroke="#fff" stroke-width="1"/>
<line x1="776.5" y1="519.6" x2="776.5" y2="550" stroke="#fff" stroke-width="1"/>
<line x1="782.5" y1="484" x2="782.5" y2="521" stroke="#fff" stroke-width="1"/>
<line x1="788.5" y1="458" x2="788.5" y2="489.4" stroke="#fff" stroke-width="1"/>
<line x1="794.5" y1="465.4" x2="794.5" y2="500.9" stroke="#fff" stroke-width="1"/>
<line x1="800.5" y1="474.8" x2="800.5" y2="497.7" stroke="#fff" stroke-width="1"/>
<line x1="806.5" y1="463.3" x2="806.5" y2="490.4" stroke="#fff" stroke-width="1"/>
<line x1="812.5" y1="434" x2="812.5" y2="476" stroke="#fff" stroke-width="1"/>
<line x1="818.5" y1="412" x2="818.5" y2="457" stroke="#fff" stroke-width="1"/>
<line x1="824.5" y1="398.6" x2="824.5" y2="422.6" stroke="#fff" stroke-width="1"/>
<line x1="830.5" y1="397.5" x2="830.5" y2="441.4" stroke="#fff" stroke-width="1"/>
<line x1="836.5" y1="400.6" x2="836.5" y2="432" stroke="#fff" stroke-width="1"/>
<line x1="842.5" y1="356.8" x2="842.5" y2="405.9" stroke="#fff" stroke-width="1"/>
<line x1="848.5" y1="344.3" x2="848.5" y2="371.4" stroke="#fff" stroke-width="1"/>
<line x1="854.5" y1="303.6" x2="854.5" y2="348.5" stroke="#fff" stroke-width="1"/>
<line x1="860.5" y1="304.6" x2="860.5" y2="369.3" stroke="#fff" stroke-width="1"/>
<line x1="866.5" y1="325" x2="866.5" y2="368.6" stroke="#fff" stroke-width="1"/>
<line x1="872.5" y1="270.8" x2="872.5" y2="334" stroke="#fff" stroke-width="1"/>
<line x1="878.5" y1="235" x2="878.5" y2="287" stroke="#fff" stroke-width="1"/>
<line x1="884.5" y1="213.9" x2="884.5" y2="258.4" stroke="#fff" stroke-width="1"/>
<line x1="890.5" y1="148.3" x2="890.5" y2="223.8" stroke="#fff" stroke-width="1"/>
<line x1="896.5" y1="121" x2="896.5" y2="231.2" stroke="#fff" stroke-width="1"/>
<line x1="902.5" y1="118.6" x2="902.5" y2="206.4" stroke="#fff" stroke-width="1"/>
<line x1="908.5" y1="122.3" x2="908.5" y2="290.6" stroke="#fff" stroke-width="1"/>
<line x1="914.5" y1="246" x2="914.5" y2="335" stroke="#fff" stroke-width="1"/>
<line x1="920.5" y1="249.8" x2="920.5" y2="283.2" stroke="#fff" stroke-width="1"/>
<line x1="926.5" y1="254.7" x2="926.5" y2="312.9" stroke="#fff" stroke-width="1"/>
<line x1="932.5" y1="277" x2="932.5" y2="355" stroke="#fff" stroke-width="1"/>
<line x1="938.5" y1="327.7" x2="938.5" y2="403" stroke="#fff" stroke-width="1"/>
<line x1="944.5" y1="321.7" x2="944.5" y2="386.4" stroke="#fff" stroke-width="1"/>
<line x1="950.5" y1="321.5" x2="950.5" y2="386.4" stroke="#fff" stroke-width="1"/>
<line x1="956.5" y1="312" x2="956.5" y2="353.6" stroke="#fff" stroke-width="1"/>
<line x1="962.5" y1="320.7" x2="962.5" y2="359.4" stroke="#fff" stroke-width="1"/>
<line x1="968.5" y1="335" x2="968.5" y2="378.7" stroke="#fff" stroke-width="1"/>
<line x1="974.5" y1="344" x2="974.5" y2="378.7" stroke="#fff" stroke-width="1"/>
<line x1="980.5" y1="327.5" x2="980.5" y2="358.4" stroke="#fff" stroke-width="1"/>
<line x1="986.5" y1="322.7" x2="986.5" y2="352.6" stroke="#fff" stroke-width="1"/>
<line x1="992.5" y1="272" x2="992.5" y2="339" stroke="#fff" stroke-width="1"/>
<line x1="998.5" y1="253" x2="998.5" y2="282" stroke="#fff" stroke-width="1"/>
<line x1="1004.5" y1="216.4" x2="1004.5" y2="282" stroke="#fff" stroke-width="1"/>
<line x1="1010.5" y1="197" x2="1010.5" y2="255" stroke="#fff" stroke-width="1"/>
<line x1="1016.5" y1="216.4" x2="1016.5" y2="319.8" stroke="#fff" stroke-width="1"/>
<line x1="1022.5" y1="277" x2="1022.5" y2="334.3" stroke="#fff" stroke-width="1"/>
<line x1="1028.5" y1="291.7" x2="1028.5" y2="340" stroke="#fff" stroke-width="1"/>
<line x1="1034.5" y1="261.8" x2="1034.5" y2="307.2" stroke="#fff" stroke-width="1"/>
<line x1="1040.5" y1="275.3" x2="1040.5" y2="316" stroke="#fff" stroke-width="1"/>
<rect x="72.1" y="922.5" width="4.8" height="1.2" fill="#ff0505"/>
<rect x="78.1" y="866.5" width="4.8" height="57.5" fill="#0b870b"/>
<rect x="84.1" y="812" width="4.8" height="55" fill="#0b870b"/>
<rect x="90.1" y="778" width="4.8" height="34.5" fill="#0b870b"/>
<rect x="96.1" y="778" width="4.8" height="14" fill="#0b870b"/>
<rect x="102.1" y="781" width="4.8" height="11" fill="#0b870b"/>
<rect x="108.1" y="716" width="4.8" height="66" fill="#0b870b"/>
<rect x="114.1" y="716" width="4.8" height="9.5" fill="#0b870b"/>
<rect x="120.1" y="669" width="4.8" height="56.5" fill="#0b870b"/>
<rect x="126.1" y="669" width="4.8" height="27" fill="#0b870b"/>
<rect x="132.1" y="695" width="4.8" height="52" fill="#ff0505"/>
<rect x="138.1" y="713" width="4.8" height="34" fill="#ff0505"/>
<rect x="144.1" y="713" width="4.8" height="19.7" fill="#ff0505"/>
<rect x="150.1" y="715.6" width="4.8" height="17.1" fill="#0b870b"/>
<rect x="156.1" y="715.6" width="4.8" height="15.4" fill="#ff0505"/>
<rect x="162.1" y="730.6" width="4.8" height="16.4" fill="#ff0505"/>
<rect x="168.1" y="747" width="4.8" height="29.6" fill="#ff0505"/>
<rect x="174.1" y="776" width="4.8" height="2" fill="#0b870b"/>
<rect x="180.1" y="722" width="4.8" height="54.6" fill="#0b870b"/>
<rect x="186.1" y="665" width="4.8" height="57" fill="#0b870b"/>
<rect x="192.1" y="665" width="4.8" height="40" fill="#0b870b"/>
<rect x="198.1" y="703.8" width="4.8" height="34.8" fill="#ff0505"/>
<rect x="204.1" y="724.8" width="4.8" height="13.2" fill="#ff0505"/>
<rect x="210.1" y="724" width="4.8" height="54.5" fill="#ff0505"/>
<rect x="216.1" y="769" width="4.8" height="9" fill="#ff0505"/>
<rect x="222.1" y="769" width="4.8" height="42.6" fill="#ff0505"/>
<rect x="228.1" y="775" width="4.8" height="36.6" fill="#ff0505"/>
<rect x="234.1" y="775" width="4.8" height="25" fill="#ff0505"/>
<rect x="240.1" y="780.6" width="4.8" height="20.1" fill="#0b870b"/>
<rect x="246.1" y="746.6" width="4.8" height="34.8" fill="#0b870b"/>
<rect x="252.1" y="732.4" width="4.8" height="15" fill="#0b870b"/>
<rect x="258.1" y="732.4" width="4.8" height="12.6" fill="#0b870b"/>
<rect x="264.1" y="707" width="4.8" height="38" fill="#0b870b"/>
<rect x="270.1" y="707" width="4.8" height="10" fill="#0b870b"/>
<rect x="276.1" y="717" width="4.8" height="25" fill="#ff0505"/>
<rect x="282.1" y="741" width="4.8" height="8.7" fill="#ff0505"/>
<rect x="288.1" y="731" width="4.8" height="18.7" fill="#ff0505"/>
<rect x="294.1" y="731" width="4.8" height="15" fill="#ff0505"/>
<rect x="300.1" y="694" width="4.8" height="53.4" fill="#0b870b"/>
<rect x="306.1" y="694" width="4.8" height="16.3" fill="#0b870b"/>
<rect x="312.1" y="699.5" width="4.8" height="10.8" fill="#0b870b"/>
<rect x="318.1" y="699.5" width="4.8" height="11.5" fill="#0b870b"/>
<rect x="324.1" y="711.9" width="4.8" height="22.4" fill="#ff0505"/>
<rect x="330.1" y="726.6" width="4.8" height="7.7" fill="#ff0505"/>
<rect x="336.1" y="726.6" width="4.8" height="2.4" fill="#ff0505"/>
<rect x="342.1" y="709.6" width="4.8" height="18.4" fill="#0b870b"/>
<rect x="348.1" y="692.5" width="4.8" height="17.1" fill="#0b870b"/>
<rect x="354.1" y="664" width="4.8" height="28.5" fill="#0b870b"/>
<rect x="360.1" y="664" width="4.8" height="28.5" fill="#0b870b"/>
<rect x="366.1" y="689.9" width="4.8" height="2.7" fill="#ff0505"/>
<rect x="372.1" y="690.3" width="4.8" height="11.7" fill="#ff0505"/>
<rect x="378.1" y="700" width="4.8" height="1.2" fill="#ff0505"/>
<rect x="384.1" y="700" width="4.8" height="2" fill="#ff0505"/>
<rect x="390.1" y="700.5" width="4.8" height="1.2" fill="#ff0505"/>
<rect x="396.1" y="701" width="4.8" height="28" fill="#ff0505"/>
<rect x="402.1" y="722" width="4.8" height="7" fill="#ff0505"/>
<rect x="408.1" y="722" width="4.8" height="4" fill="#ff0505"/>
<rect x="414.1" y="725" width="4.8" height="31.8" fill="#ff0505"/>
<rect x="420.1" y="739" width="4.8" height="17.8" fill="#ff0505"/>
<rect x="426.1" y="719" width="4.8" height="20.8" fill="#0b870b"/>
<rect x="432.1" y="708" width="4.8" height="11.7" fill="#0b870b"/>
<rect x="438.1" y="708" width="4.8" height="18.6" fill="#0b870b"/>
<rect x="444.1" y="720.5" width="4.8" height="6.1" fill="#0b870b"/>
<rect x="450.1" y="719" width="4.8" height="2" fill="#ff0505"/>
<rect x="456.1" y="720.5" width="4.8" height="20.1" fill="#ff0505"/>
<rect x="462.1" y="733.6" width="4.8" height="7" fill="#ff0505"/>
<rect x="468.1" y="726.6" width="4.8" height="7" fill="#0b870b"/>
<rect x="474.1" y="707.3" width="4.8" height="20.1" fill="#0b870b"/>
<rect x="480.1" y="707.3" width="4.8" height="9.3" fill="#0b870b"/>
<rect x="486.1" y="716.6" width="4.8" height="10.8" fill="#ff0505"/>
<rect x="492.1" y="714.3" width="4.8" height="13.1" fill="#0b870b"/>
<rect x="498.1" y="714.3" width="4.8" height="4.7" fill="#ff0505"/>
<rect x="504.1" y="711.2" width="4.8" height="7.8" fill="#0b870b"/>
<rect x="510.1" y="685" width="4.8" height="27" fill="#0b870b"/>
<rect x="516.1" y="664.8" width="4.8" height="20.9" fill="#0b870b"/>
<rect x="522.1" y="664.8" width="4.8" height="27.1" fill="#0b870b"/>
<rect x="528.1" y="690.3" width="4.8" height="12.4" fill="#ff0505"/>
<rect x="534.1" y="702" width="4.8" height="17.7" fill="#ff0505"/>
<rect x="540.1" y="719" width="4.8" height="14.6" fill="#ff0505"/>
<rect x="546.1" y="725.9" width="4.8" height="7.7" fill="#ff0505"/>
<rect x="552.1" y="725.9" width="4.8" height="30.1" fill="#ff0505"/>
<rect x="558.1" y="747" width="4.8" height="9" fill="#ff0505"/>
<rect x="564.1" y="705" width="4.8" height="42.5" fill="#0b870b"/>
<rect x="570.1" y="699" width="4.8" height="6.5" fill="#0b870b"/>
<rect x="576.1" y="695.4" width="4.8" height="4.2" fill="#0b870b"/>
<rect x="582.1" y="695.4" width="4.8" height="6.6" fill="#0b870b"/>
<rect x="588.1" y="685" width="4.8" height="17" fill="#0b870b"/>
<rect x="594.1" y="684.5" width="4.8" height="1.2" fill="#0b870b"/>
<rect x="600.1" y="685" width="4.8" height="31.6" fill="#ff0505"/>
<rect x="606.1" y="712.7" width="4.8" height="3.9" fill="#ff0505"/>
<rect x="612.1" y="708.9" width="4.8" height="4.6" fill="#ff0505"/>
<rect x="618.1" y="708.9" width="4.8" height="11.6" fill="#ff0505"/>
<rect x="624.1" y="720" width="4.8" height="1.2" fill="#ff0505"/>
<rect x="630.1" y="720.5" width="4.8" height="2.3" fill="#ff0505"/>
<rect x="636.1" y="722" width="4.8" height="10.8" fill="#ff0505"/>
<rect x="642.1" y="714.3" width="4.8" height="18.5" fill="#0b870b"/>
<rect x="648.1" y="714.3" width="4.8" height="5.4" fill="#0b870b"/>
<rect x="654.1" y="700.4" width="4.8" height="19.3" fill="#0b870b"/>
<rect x="660.1" y="700.4" width="4.8" height="3.1" fill="#0b870b"/>
<rect x="666.1" y="687.2" width="4.8" height="16.3" fill="#0b870b"/>
<rect x="672.1" y="685.7" width="4.8" height="2.3" fill="#0b870b"/>
<rect x="678.1" y="674" width="4.8" height="11.8" fill="#0b870b"/>
<rect x="684.1" y="655" width="4.8" height="20.6" fill="#0b870b"/>
<rect x="690.1" y="639" width="4.8" height="17" fill="#0b870b"/>
<rect x="696.1" y="607.6" width="4.8" height="32.4" fill="#0b870b"/>
<rect x="702.1" y="592" width="4.8" height="15.6" fill="#0b870b"/>
<rect x="708.1" y="592" width="4.8" height="8.7" fill="#0b870b"/>
<rect x="714.1" y="574.4" width="4.8" height="26.3" fill="#0b870b"/>
<rect x="720.1" y="548" width="4.8" height="26.4" fill="#0b870b"/>
<rect x="726.1" y="548" width="4.8" height="6.8" fill="#0b870b"/>
<rect x="732.1" y="545.5" width="4.8" height="9.3" fill="#0b870b"/>
<rect x="738.1" y="545.5" width="4.8" height="4.2" fill="#0b870b"/>
<rect x="744.1" y="544.3" width="4.8" height="5.4" fill="#0b870b"/>
<rect x="750.1" y="524.2" width="4.8" height="20.4" fill="#0b870b"/>
<rect x="756.1" y="517.4" width="4.8" height="7.2" fill="#0b870b"/>
<rect x="762.1" y="517" width="4.8" height="18.3" fill="#ff0505"/>
<rect x="768.1" y="535.3" width="4.8" height="8.5" fill="#ff0505"/>
<rect x="774.1" y="520.7" width="4.8" height="23" fill="#0b870b"/>
<rect x="780.1" y="485" width="4.8" height="35.7" fill="#0b870b"/>
<rect x="786.1" y="475.4" width="4.8" height="9.6" fill="#0b870b"/>
<rect x="792.1" y="475.4" width="4.8" height="15" fill="#0b870b"/>
<rect x="798.1" y="483.7" width="4.8" height="6.7" fill="#0b870b"/>
<rect x="804.1" y="475.4" width="4.8" height="8.3" fill="#0b870b"/>
<rect x="810.1" y="434" width="4.8" height="41.4" fill="#0b870b"/>
<rect x="816.1" y="420.5" width="4.8" height="13.5" fill="#0b870b"/>
<rect x="822.1" y="416.3" width="4.8" height="4.7" fill="#0b870b"/>
<rect x="828.1" y="416.3" width="4.8" height="6.3" fill="#0b870b"/>
<rect x="834.1" y="404.8" width="4.8" height="17.8" fill="#0b870b"/>
<rect x="840.1" y="361" width="4.8" height="44.9" fill="#0b870b"/>
<rect x="846.1" y="348.5" width="4.8" height="12.5" fill="#0b870b"/>
<rect x="852.1" y="315" width="4.8" height="33.5" fill="#0b870b"/>
<rect x="858.1" y="315" width="4.8" height="38.7" fill="#0b870b"/>
<rect x="864.1" y="331.4" width="4.8" height="22.3" fill="#0b870b"/>
<rect x="870.1" y="275.7" width="4.8" height="55.7" fill="#0b870b"/>
<rect x="876.1" y="257" width="4.8" height="18.7" fill="#0b870b"/>
<rect x="882.1" y="218.8" width="4.8" height="38.2" fill="#0b870b"/>
<rect x="888.1" y="150.7" width="4.8" height="68.1" fill="#0b870b"/>
<rect x="894.1" y="150.7" width="4.8" height="47.1" fill="#0b870b"/>
<rect x="900.1" y="134.7" width="4.8" height="63.1" fill="#0b870b"/>
<rect x="906.1" y="134.7" width="4.8" height="131.1" fill="#ff0505"/>
<rect x="912.1" y="267" width="4.8" height="16.2" fill="#ff0505"/>
<rect x="918.1" y="267" width="4.8" height="16.2" fill="#ff0505"/>
<rect x="924.1" y="267" width="4.8" height="10" fill="#ff0505"/>
<rect x="930.1" y="277" width="4.8" height="73" fill="#ff0505"/>
<rect x="936.1" y="350" width="4.8" height="17.3" fill="#ff0505"/>
<rect x="942.1" y="366" width="4.8" height="13.7" fill="#ff0505"/>
<rect x="948.1" y="324.6" width="4.8" height="55.1" fill="#0b870b"/>
<rect x="954.1" y="324.6" width="4.8" height="12.4" fill="#0b870b"/>
<rect x="960.1" y="336.5" width="4.8" height="1.5" fill="#0b870b"/>
<rect x="966.1" y="338" width="4.8" height="40.7" fill="#ff0505"/>
<rect x="972.1" y="349.7" width="4.8" height="29" fill="#ff0505"/>
<rect x="978.1" y="349.7" width="4.8" height="2.9" fill="#ff0505"/>
<rect x="984.1" y="338" width="4.8" height="14.6" fill="#0b870b"/>
<rect x="990.1" y="272.4" width="4.8" height="66.6" fill="#0b870b"/>
<rect x="996.1" y="266" width="4.8" height="6.4" fill="#0b870b"/>
<rect x="1002.1" y="226" width="4.8" height="40.6" fill="#0b870b"/>
<rect x="1008.1" y="226" width="4.8" height="14.5" fill="#0b870b"/>
<rect x="1014.1" y="240.5" width="4.8" height="52.2" fill="#ff0505"/>
<rect x="1020.1" y="292.7" width="4.8" height="21.3" fill="#ff0505"/>
<rect x="1026.1" y="300.4" width="4.8" height="13.6" fill="#ff0505"/>
<rect x="1032.1" y="294.6" width="4.8" height="5.8" fill="#ff0505"/>
<rect x="1038.1" y="294.6" width="4.8" height="3.4" fill="#ff0505"/>
<line x1="74" y1="300.5" x2="1226" y2="300.5" stroke="#e07070" stroke-width="1" stroke-dasharray="1,2"/>
<path d="M992.2,270.5 C993.2,262 996.3,231.9 998,219.3 C999.7,206.7 1000.7,200.7 1002.4,194.7 C1004.1,188.7 1006.3,185.7 1008,183.5 C1009.7,181.3 1010.8,181.3 1012.5,181.7 C1014.2,182.1 1016,182.8 1018,185.7 C1020,188.6 1022.5,193.8 1024.8,199 C1027.1,204.2 1029.3,209.9 1031.6,217 C1033.8,224.1 1036.1,233.1 1038.3,241.7 C1040.5,250.3 1042.8,259 1045,268.7 C1047.2,278.4 1049.5,288.1 1051.7,300 C1054,311.9 1056.2,327.7 1058.5,340.4 C1060.8,353.1 1063.2,364.4 1065.2,376.3 C1067.2,388.2 1069.1,400.1 1070.8,412 C1072.5,423.9 1074.5,442 1075.3,448" fill="none" stroke="#f5a332" stroke-width="2.4" stroke-dasharray="3.5,2.5"/>
<polyline points="1064,440 1075.3,449 1083,439" fill="none" stroke="#f5a332" stroke-width="2.4" stroke-linejoin="round" stroke-dasharray="3.5,2.5"/>
<rect x="1040" y="231.5" width="6" height="1.5" fill="#e0905a"/>
<rect x="1040" y="267" width="6" height="3" fill="#d07070"/>
<rect x="1040" y="319.5" width="6" height="2.5" fill="#2a8a80"/>
<rect x="1040" y="355.5" width="6" height="1.5" fill="#e0905a"/>
<circle cx="1040.6" cy="934.3" r="9.5" fill="none" stroke="#a855c0" stroke-width="1.8"/>
<path d="M1042.5,928.5 L1037.5,935 L1041,935 L1038.5,940.5 L1044,933.5 L1040.5,933.5 Z" fill="#b060d0"/>
<circle cx="1047.6" cy="927.7" r="2.7" fill="#f04040" stroke="#000" stroke-width="1.2"/>
</g>
<text x="1288.5" y="54" font-size="13" fill="#c8c8c8" text-anchor="end" letter-spacing="0.25">4,500.00</text>
<text x="1288.5" y="111.5" font-size="13" fill="#c8c8c8" text-anchor="end" letter-spacing="0.25">4,400.00</text>
<text x="1288.5" y="169" font-size="13" fill="#c8c8c8" text-anchor="end" letter-spacing="0.25">4,300.00</text>
<text x="1288.5" y="226.5" font-size="13" fill="#c8c8c8" text-anchor="end" letter-spacing="0.25">4,200.00</text>
<text x="1288.5" y="284" font-size="13" fill="#c8c8c8" text-anchor="end" letter-spacing="0.25">4,100.00</text>
<text x="1288.5" y="341.5" font-size="13" fill="#c8c8c8" text-anchor="end" letter-spacing="0.25">4,000.00</text>
<text x="1288.5" y="399" font-size="13" fill="#c8c8c8" text-anchor="end" letter-spacing="0.25">3,900.00</text>
<text x="1288.5" y="456.5" font-size="13" fill="#c8c8c8" text-anchor="end" letter-spacing="0.25">3,800.00</text>
<text x="1288.5" y="514" font-size="13" fill="#c8c8c8" text-anchor="end" letter-spacing="0.25">3,700.00</text>
<text x="1288.5" y="571.5" font-size="13" fill="#c8c8c8" text-anchor="end" letter-spacing="0.25">3,600.00</text>
<text x="1288.5" y="629" font-size="13" fill="#c8c8c8" text-anchor="end" letter-spacing="0.25">3,500.00</text>
<text x="1288.5" y="686.5" font-size="13" fill="#c8c8c8" text-anchor="end" letter-spacing="0.25">3,400.00</text>
<text x="1288.5" y="744" font-size="13" fill="#c8c8c8" text-anchor="end" letter-spacing="0.25">3,300.00</text>
<text x="1288.5" y="801.5" font-size="13" fill="#c8c8c8" text-anchor="end" letter-spacing="0.25">3,200.00</text>
<text x="1288.5" y="859" font-size="13" fill="#c8c8c8" text-anchor="end" letter-spacing="0.25">3,100.00</text>
<text x="1288.5" y="916.5" font-size="13" fill="#c8c8c8" text-anchor="end" letter-spacing="0.25">3,000.00</text>
<rect x="1227" y="292" width="67" height="31" fill="#ff0000"/>
<text x="1288.5" y="304" font-size="13" fill="#fff" text-anchor="end" letter-spacing="0.25">4,067.22</text>
<text x="1288.5" y="318.5" font-size="13" fill="#fff" text-anchor="end" letter-spacing="0.25">14:40:18</text>
<rect x="72.3" y="1046" width="4.4" height="24" fill="#943731"/>
<rect x="78.3" y="1030" width="4.4" height="40" fill="#377537"/>
<rect x="84.3" y="1041" width="4.4" height="29" fill="#377537"/>
<rect x="90.3" y="1037.4" width="4.4" height="32.6" fill="#377537"/>
<rect x="96.3" y="1050" width="4.4" height="20" fill="#943731"/>
<rect x="102.3" y="1055.4" width="4.4" height="14.6" fill="#377537"/>
<rect x="108.3" y="1047.6" width="4.4" height="22.4" fill="#377537"/>
<rect x="114.3" y="1047.6" width="4.4" height="22.4" fill="#943731"/>
<rect x="120.3" y="1047.6" width="4.4" height="22.4" fill="#377537"/>
<rect x="126.3" y="1037.4" width="4.4" height="32.6" fill="#943731"/>
<rect x="132.3" y="1035.4" width="4.4" height="34.6" fill="#943731"/>
<rect x="138.3" y="1046" width="4.4" height="24" fill="#377537"/>
<rect x="144.3" y="1046" width="4.4" height="24" fill="#943731"/>
<rect x="150.3" y="1046" width="4.4" height="24" fill="#377537"/>
<rect x="156.3" y="1052" width="4.4" height="18" fill="#943731"/>
<rect x="162.3" y="1050" width="4.4" height="20" fill="#943731"/>
<rect x="168.3" y="1049" width="4.4" height="21" fill="#943731"/>
<rect x="174.3" y="1047.6" width="4.4" height="22.4" fill="#377537"/>
<rect x="180.3" y="1052" width="4.4" height="18" fill="#377537"/>
<rect x="186.3" y="1049" width="4.4" height="21" fill="#377537"/>
<rect x="192.3" y="1046" width="4.4" height="24" fill="#943731"/>
<rect x="198.3" y="1045" width="4.4" height="25" fill="#943731"/>
<rect x="204.3" y="1048" width="4.4" height="22" fill="#377537"/>
<rect x="210.3" y="1036" width="4.4" height="34" fill="#943731"/>
<rect x="216.3" y="1049" width="4.4" height="21" fill="#377537"/>
<rect x="222.3" y="1047.6" width="4.4" height="22.4" fill="#943731"/>
<rect x="228.3" y="1050" width="4.4" height="20" fill="#377537"/>
<rect x="234.3" y="1051.3" width="4.4" height="18.7" fill="#943731"/>
<rect x="240.3" y="1053" width="4.4" height="17" fill="#377537"/>
<rect x="246.3" y="1053" width="4.4" height="17" fill="#377537"/>
<rect x="252.3" y="1051.3" width="4.4" height="18.7" fill="#377537"/>
<rect x="258.3" y="1046" width="4.4" height="24" fill="#943731"/>
<rect x="264.3" y="1050" width="4.4" height="20" fill="#377537"/>
<rect x="270.3" y="1060" width="4.4" height="10" fill="#943731"/>
<rect x="276.3" y="1054" width="4.4" height="16" fill="#943731"/>
<rect x="282.3" y="1052" width="4.4" height="18" fill="#943731"/>
<rect x="288.3" y="1050" width="4.4" height="20" fill="#377537"/>
<rect x="294.3" y="1052" width="4.4" height="18" fill="#943731"/>
<rect x="300.3" y="1052" width="4.4" height="18" fill="#377537"/>
<rect x="306.3" y="1054" width="4.4" height="16" fill="#943731"/>
<rect x="312.3" y="1054" width="4.4" height="16" fill="#377537"/>
<rect x="318.3" y="1046" width="4.4" height="24" fill="#943731"/>
<rect x="324.3" y="1049" width="4.4" height="21" fill="#943731"/>
<rect x="330.3" y="1055.4" width="4.4" height="14.6" fill="#377537"/>
<rect x="336.3" y="1053" width="4.4" height="17" fill="#943731"/>
<rect x="342.3" y="1051.3" width="4.4" height="18.7" fill="#377537"/>
<rect x="348.3" y="1047.6" width="4.4" height="22.4" fill="#377537"/>
<rect x="354.3" y="1043" width="4.4" height="27" fill="#377537"/>
<rect x="360.3" y="1050" width="4.4" height="20" fill="#943731"/>
<rect x="366.3" y="1051.3" width="4.4" height="18.7" fill="#377537"/>
<rect x="372.3" y="1052" width="4.4" height="18" fill="#943731"/>
<rect x="378.3" y="1057" width="4.4" height="13" fill="#377537"/>
<rect x="384.3" y="1056.3" width="4.4" height="13.7" fill="#943731"/>
<rect x="390.3" y="1049.8" width="4.4" height="20.2" fill="#377537"/>
<rect x="396.3" y="1047.9" width="4.4" height="22.1" fill="#943731"/>
<rect x="402.3" y="1055.8" width="4.4" height="14.2" fill="#377537"/>
<rect x="408.3" y="1053.9" width="4.4" height="16.1" fill="#943731"/>
<rect x="414.3" y="1049" width="4.4" height="21" fill="#943731"/>
<rect x="420.3" y="1050.8" width="4.4" height="19.2" fill="#377537"/>
<rect x="426.3" y="1049" width="4.4" height="21" fill="#377537"/>
<rect x="432.3" y="1052.7" width="4.4" height="17.3" fill="#377537"/>
<rect x="438.3" y="1052.7" width="4.4" height="17.3" fill="#943731"/>
<rect x="444.3" y="1063" width="4.4" height="7" fill="#377537"/>
<rect x="450.3" y="1052.7" width="4.4" height="17.3" fill="#377537"/>
<rect x="456.3" y="1051.5" width="4.4" height="18.5" fill="#943731"/>
<rect x="462.3" y="1053.9" width="4.4" height="16.1" fill="#377537"/>
<rect x="468.3" y="1053.9" width="4.4" height="16.1" fill="#377537"/>
<rect x="474.3" y="1049" width="4.4" height="21" fill="#377537"/>
<rect x="480.3" y="1053.9" width="4.4" height="16.1" fill="#943731"/>
<rect x="486.3" y="1053.9" width="4.4" height="16.1" fill="#943731"/>
<rect x="492.3" y="1047.9" width="4.4" height="22.1" fill="#377537"/>
<rect x="498.3" y="1055" width="4.4" height="15" fill="#943731"/>
<rect x="504.3" y="1057" width="4.4" height="13" fill="#377537"/>
<rect x="510.3" y="1052.7" width="4.4" height="17.3" fill="#377537"/>
<rect x="516.3" y="1050.8" width="4.4" height="19.2" fill="#377537"/>
<rect x="522.3" y="1047.4" width="4.4" height="22.6" fill="#943731"/>
<rect x="528.3" y="1050.8" width="4.4" height="19.2" fill="#943731"/>
<rect x="534.3" y="1052.7" width="4.4" height="17.3" fill="#943731"/>
<rect x="540.3" y="1050.8" width="4.4" height="19.2" fill="#943731"/>
<rect x="546.3" y="1052.7" width="4.4" height="17.3" fill="#377537"/>
<rect x="552.3" y="1046.7" width="4.4" height="23.3" fill="#943731"/>
<rect x="558.3" y="1050.8" width="4.4" height="19.2" fill="#377537"/>
<rect x="564.3" y="1047.4" width="4.4" height="22.6" fill="#377537"/>
<rect x="570.3" y="1053.9" width="4.4" height="16.1" fill="#377537"/>
<rect x="576.3" y="1055.5" width="4.4" height="14.5" fill="#377537"/>
<rect x="582.3" y="1055" width="4.4" height="15" fill="#943731"/>
<rect x="588.3" y="1044.8" width="4.4" height="25.2" fill="#377537"/>
<rect x="594.3" y="1025.9" width="4.4" height="44.1" fill="#377537"/>
<rect x="600.3" y="1041.9" width="4.4" height="28.1" fill="#943731"/>
<rect x="606.3" y="1047" width="4.4" height="23" fill="#377537"/>
<rect x="612.3" y="1055" width="4.4" height="15" fill="#377537"/>
<rect x="618.3" y="1049.8" width="4.4" height="20.2" fill="#943731"/>
<rect x="624.3" y="1057" width="4.4" height="13" fill="#377537"/>
<rect x="630.3" y="1055.8" width="4.4" height="14.2" fill="#943731"/>
<rect x="636.3" y="1057" width="4.4" height="13" fill="#943731"/>
<rect x="642.3" y="1055.8" width="4.4" height="14.2" fill="#377537"/>
<rect x="648.3" y="1055.8" width="4.4" height="14.2" fill="#943731"/>
<rect x="654.3" y="1051.5" width="4.4" height="18.5" fill="#377537"/>
<rect x="660.3" y="1058.7" width="4.4" height="11.3" fill="#943731"/>
<rect x="666.3" y="1051.5" width="4.4" height="18.5" fill="#377537"/>
<rect x="672.3" y="1053.9" width="4.4" height="16.1" fill="#377537"/>
<rect x="678.3" y="1051.5" width="4.4" height="18.5" fill="#377537"/>
<rect x="684.3" y="1047.9" width="4.4" height="22.1" fill="#377537"/>
<rect x="690.3" y="1051.5" width="4.4" height="18.5" fill="#377537"/>
<rect x="696.3" y="1037.8" width="4.4" height="32.2" fill="#377537"/>
<rect x="702.3" y="1040.7" width="4.4" height="29.3" fill="#377537"/>
<rect x="708.3" y="1043.8" width="4.4" height="26.2" fill="#943731"/>
<rect x="714.3" y="1036.8" width="4.4" height="33.2" fill="#377537"/>
<rect x="720.3" y="1040.8" width="4.4" height="29.2" fill="#377537"/>
<rect x="726.3" y="1036.8" width="4.4" height="33.2" fill="#943731"/>
<rect x="732.3" y="1045.7" width="4.4" height="24.3" fill="#377537"/>
<rect x="738.3" y="1043.3" width="4.4" height="26.7" fill="#943731"/>
<rect x="744.3" y="1048.2" width="4.4" height="21.8" fill="#377537"/>
<rect x="750.3" y="1046.2" width="4.4" height="23.8" fill="#377537"/>
<rect x="756.3" y="1045" width="4.4" height="25" fill="#377537"/>
<rect x="762.3" y="1035.9" width="4.4" height="34.1" fill="#943731"/>
<rect x="768.3" y="1043.8" width="4.4" height="26.2" fill="#943731"/>
<rect x="774.3" y="1048.2" width="4.4" height="21.8" fill="#377537"/>
<rect x="780.3" y="1048.7" width="4.4" height="21.3" fill="#377537"/>
<rect x="786.3" y="1040" width="4.4" height="30" fill="#377537"/>
<rect x="792.3" y="1043.8" width="4.4" height="26.2" fill="#943731"/>
<rect x="798.3" y="1041.3" width="4.4" height="28.7" fill="#377537"/>
<rect x="804.3" y="1043.3" width="4.4" height="26.7" fill="#377537"/>
<rect x="810.3" y="1038.3" width="4.4" height="31.7" fill="#377537"/>
<rect x="816.3" y="1038.8" width="4.4" height="31.2" fill="#377537"/>
<rect x="822.3" y="1038.3" width="4.4" height="31.7" fill="#377537"/>
<rect x="828.3" y="1041.8" width="4.4" height="28.2" fill="#943731"/>
<rect x="834.3" y="1045" width="4.4" height="25" fill="#377537"/>
<rect x="840.3" y="1036.8" width="4.4" height="33.2" fill="#377537"/>
<rect x="846.3" y="1034.4" width="4.4" height="35.6" fill="#377537"/>
<rect x="852.3" y="1036.8" width="4.4" height="33.2" fill="#377537"/>
<rect x="858.3" y="1022" width="4.4" height="48" fill="#943731"/>
<rect x="864.3" y="1022" width="4.4" height="48" fill="#377537"/>
<rect x="870.3" y="1038" width="4.4" height="32" fill="#377537"/>
<rect x="876.3" y="1023" width="4.4" height="47" fill="#377537"/>
<rect x="882.3" y="1036.8" width="4.4" height="33.2" fill="#377537"/>
<rect x="888.3" y="1033" width="4.4" height="37" fill="#377537"/>
<rect x="894.3" y="1001.8" width="4.4" height="68.2" fill="#943731"/>
<rect x="900.3" y="1025" width="4.4" height="45" fill="#377537"/>
<rect x="906.3" y="1006" width="4.4" height="64" fill="#943731"/>
<rect x="912.3" y="1006" width="4.4" height="64" fill="#943731"/>
<rect x="918.3" y="1029.7" width="4.4" height="40.3" fill="#377537"/>
<rect x="924.3" y="1029.7" width="4.4" height="40.3" fill="#943731"/>
<rect x="930.3" y="1022" width="4.4" height="48" fill="#943731"/>
<rect x="936.3" y="1029" width="4.4" height="41" fill="#943731"/>
<rect x="942.3" y="1026" width="4.4" height="44" fill="#943731"/>
<rect x="948.3" y="1028.2" width="4.4" height="41.8" fill="#377537"/>
<rect x="954.3" y="1033.9" width="4.4" height="36.1" fill="#943731"/>
<rect x="960.3" y="1033.9" width="4.4" height="36.1" fill="#943731"/>
<rect x="966.3" y="1031" width="4.4" height="39" fill="#943731"/>
<rect x="972.3" y="1040" width="4.4" height="30" fill="#377537"/>
<rect x="978.3" y="1035.9" width="4.4" height="34.1" fill="#943731"/>
<rect x="984.3" y="1041.8" width="4.4" height="28.2" fill="#377537"/>
<rect x="990.3" y="1035" width="4.4" height="35" fill="#377537"/>
<rect x="996.3" y="1038.8" width="4.4" height="31.2" fill="#377537"/>
<rect x="1002.3" y="1029.7" width="4.4" height="40.3" fill="#377537"/>
<rect x="1004" y="960" width="4.5" height="65" fill="#200c0b"/>
<rect x="1008.3" y="958.6" width="4.4" height="67.4" fill="#6e2a24"/>
<rect x="1008.3" y="1026" width="4.4" height="44" fill="#943731"/>
<rect x="1014.3" y="1004.8" width="4.4" height="65.2" fill="#943731"/>
<rect x="1020.3" y="1029" width="4.4" height="41" fill="#943731"/>
<rect x="1026.3" y="1021" width="4.4" height="49" fill="#377537"/>
<rect x="1032.3" y="1021" width="4.4" height="49" fill="#377537"/>
<rect x="1038.3" y="1054.9" width="4.4" height="15.1" fill="#943731"/>
<text x="64.5" y="963.6" font-size="13" fill="#c8c8c8" text-anchor="end">3 M</text>
<text x="64.5" y="1000.6" font-size="13" fill="#c8c8c8" text-anchor="end">2 M</text>
<text x="64.5" y="1037.6" font-size="13" fill="#c8c8c8" text-anchor="end">1 M</text>
<text x="1235.5" y="964.1" font-size="13" fill="#c8c8c8" letter-spacing="0.25">0.50</text>
<text x="1235.5" y="1014.1" font-size="13" fill="#c8c8c8" letter-spacing="0.25">0.00</text>
<text x="1235.5" y="1063.1" font-size="13" fill="#c8c8c8" letter-spacing="0.25">−0.50</text>
<g clip-path="url(#op)">
<rect x="74" y="1138.5" width="1152" height="10" fill="#2e2e30"/>
<line x1="74" y1="1138.5" x2="1226" y2="1138.5" stroke="#6a6a6a" stroke-width="1" stroke-dasharray="4,3"/>
<line x1="74" y1="1148.5" x2="1226" y2="1148.5" stroke="#6a6a6a" stroke-width="1"/>
<line x1="74" y1="1142.8" x2="1042" y2="1142.8" stroke="#9a5ab8" stroke-width="2"/>
<line x1="74" y1="1106.5" x2="1226" y2="1106.5" stroke="#d0503c" stroke-width="1"/>
<line x1="74" y1="1172.4" x2="1226" y2="1172.4" stroke="#5aa050" stroke-width="1"/>
<polyline points="74.3,1097.2 99,1103 128,1113.6 157,1115.6 176.3,1119.4 195,1124.3 209.5,1132 224,1144.6 238.5,1157.1 253,1165.8 267.5,1173.6 282,1179.3 296.4,1183.2 311,1184.2 325,1184.2 349,1182.2 368.3,1180.8 387.6,1182.2 407,1183.2 426.3,1184.2 450,1187.1 474,1190.9 503,1191.4 532,1189 551.3,1186.1 575,1183.2 599,1179.3 628,1172.6 647.3,1169.7 666.6,1169.2 686,1167.8 700,1165 733.6,1142.6 768.4,1105.9 791.6,1094.3 825,1087.6 868.3,1086.6 907,1087.1 926.3,1092.4 940.8,1098.2 954.7,1105.9 969.2,1120.4 983.6,1134.9 998.1,1146.5 1012.6,1155.2 1032,1165.8 1039.8,1167.3" fill="none" stroke="#c8463a" stroke-width="1.2" stroke-linejoin="round" />
<polyline points="74.3,1112.7 84.5,1116.5 94.2,1115.6 103.8,1117.5 128,1118 139.6,1114.6 152.1,1109.3 158.9,1113.6 166.6,1121.4 181.1,1136.8 195,1148.4 200.8,1153.3 206.6,1155.2 219.2,1166.8 228.8,1174.5 237.5,1179.3 249.1,1180.3 262.6,1186.1 278.1,1187.6 291.6,1184.2 311,1179.3 320,1179.3 338.4,1182.2 358.6,1181.3 378,1182.2 397.3,1184.2 416.6,1188 436,1190.5 450,1191.9 464.3,1194.3 483.6,1190.9 503,1190.9 512.6,1187.1 532,1181.3 546.4,1183.2 561,1184.2 575,1178.4 579.7,1176.4 599,1170.7 613.5,1166.8 629.9,1163.9 642.5,1167.8 661.8,1173.6 676.3,1171.6 686,1165.8 695,1154.2 724,1115.6 757.8,1084.2 772.3,1087.6 825,1088 839.3,1085.6 858.6,1086.6 902.1,1087.6 916.6,1099.2 936,1117.5 945,1127.2 959.5,1144.6 972,1158.1 988.5,1165.8 999.1,1168.7 1012.6,1167.8 1025.2,1172.6 1037.8,1176.4" fill="none" stroke="#4a9a4a" stroke-width="1" stroke-linejoin="round" />
<polyline points="74.3,1194.8 79.7,1176.4 89.3,1133 99,1114 110,1100 118.3,1094 122.2,1092.4 131.8,1104 147.3,1136.8 152.1,1133.9 160,1165 166.6,1189 169.5,1191.9 176.3,1193.8 187.9,1163.9 194.6,1154.2 204.7,1172.6 212.4,1185.1 224,1191.9 235.6,1179.3 248.1,1168.7 254.9,1152.3 275.2,1123.3 295.5,1130.6 302.2,1112.7 308,1109.8 313.8,1097.2 320.6,1107.9 327.7,1138.8 337.4,1181.3 347,1138.8 355.7,1103 361.5,1105.9 372.2,1148.4 391.5,1163.9 400.2,1176.4 409.9,1189 421.4,1187.1 432.1,1152.3 439.8,1141.7 445,1133.9 451.8,1129.1 470.1,1142.6 475,1119.4 481.7,1106.9 487.5,1107.9 499.1,1119.4 512.6,1103 518.4,1089.5 525.2,1102.1 532,1133 541.6,1171.6 551.3,1186.1 561,1177.4 566.7,1152.3 578.7,1129.1 589.3,1123.3 596.1,1120.4 603.8,1127.2 614.4,1135.9 624.1,1141.7 631.8,1148.4 637.6,1160 647.3,1160 657,1134.9 666.6,1104 680.1,1084.2 695,1084.7 738.5,1090.5 757.8,1088.5 762.6,1098.2 767.5,1116.5 776.2,1162.9 787.8,1124.3 791.6,1126.2 806.1,1151.3 823.5,1088.5 831.6,1091.4 844.2,1086.6 853.8,1084.7 858.6,1094.3 862.5,1121.4 872.2,1157.1 889.6,1106.9 903.1,1137.8 907.9,1172.6 913.7,1178.4 920.5,1191.9 945,1191 962.4,1180.3 969.2,1185.1 980.7,1186.1 986.5,1171.6 995.2,1119.4 1003,1086.6 1010.7,1090.5 1018.4,1121.4 1027.1,1150.4 1039.7,1154.2" fill="none" stroke="#58b058" stroke-width="1" stroke-linejoin="round" />
<polyline points="74.3,1190 79.7,1182.2 86.4,1174.5 97,1131 103.8,1118.5 111.5,1109.8 120.2,1102 128,1097.2 133.8,1100.1 145.4,1123.3 155,1136.8 166.6,1160 176.3,1185.1 182,1190 193.7,1166.8 199.8,1160 206.6,1163.9 214.3,1176.4 224,1187.1 235.6,1186.1 248.1,1175.5 262.6,1149.4 277.1,1129.1 285.8,1123.3 295.5,1127.2 308,1117.5 313.8,1106.9 319.6,1105.9 326.8,1115.6 332.6,1134.9 343.2,1169.7 350,1160 360.6,1117.5 368.3,1110.7 374.1,1124.3 391.5,1160 407,1179.3 416.6,1187.1 427.2,1181.3 434,1162 441.7,1148.4 445,1140.7 453.7,1133 462.4,1134.9 470.1,1143.6 477.9,1129.1 488.5,1110.7 494.3,1109.8 501,1113.6 512.6,1109.8 518.4,1100.1 524.2,1098.2 530,1104 537.8,1128.1 546.4,1160 556.1,1186.1 566.7,1176.4 572,1165 579.7,1144.6 584.5,1133 594.2,1123.3 601.9,1122.3 608.6,1125.2 628,1138.8 639.6,1152.3 650.2,1162 661.8,1140.7 674.3,1105 685.9,1086.6 700,1084 714.3,1087.6 733.6,1089.5 746.2,1092.4 757.8,1092.4 764.6,1095.3 772.3,1123.3 782,1151.3 787.8,1146.5 795.5,1132 799.3,1129.1 806.1,1136.8 811,1138.8 817.7,1129.1 825,1105.9 831.6,1092.4 853.8,1088 860.6,1096.3 865.4,1113.6 878,1146.5 889.6,1122.3 896.3,1117.5 903.1,1123.3 907,1142.6 919.5,1181.3 936,1193.8 950,1192.5 962.4,1184.2 978.8,1187.1 986.5,1181.3 993.3,1162 1003,1111.7 1010.7,1095.3 1016.5,1096.3 1024.2,1118.5 1032,1148.4 1039.7,1154.2" fill="none" stroke="#e0584c" stroke-width="1" stroke-linejoin="round" />
<line x1="74.2" y1="1189" x2="79.4" y2="1151.2" stroke="#f05a5a" stroke-width="3.8" stroke-linecap="round"/>
<line x1="79.4" y1="1151.2" x2="83.2" y2="1143.7" stroke="#4cbb4c" stroke-width="3.8" stroke-linecap="round"/>
<line x1="83.2" y1="1143.7" x2="88.9" y2="1132.4" stroke="#4cbb4c" stroke-width="3.8" stroke-linecap="round"/>
<line x1="88.9" y1="1132.4" x2="96.4" y2="1117.3" stroke="#4cbb4c" stroke-width="3.8" stroke-linecap="round"/>
<line x1="96.4" y1="1117.3" x2="103" y2="1095.6" stroke="#4cbb4c" stroke-width="3.8" stroke-linecap="round"/>
<line x1="103" y1="1095.6" x2="109.6" y2="1090.9" stroke="#4cbb4c" stroke-width="3.8" stroke-linecap="round"/>
<line x1="109.6" y1="1090.9" x2="116.2" y2="1099.9" stroke="#4cbb4c" stroke-width="3.8" stroke-linecap="round"/>
<line x1="116.2" y1="1099.9" x2="121.9" y2="1099.4" stroke="#4cbb4c" stroke-width="3.8" stroke-linecap="round"/>
<line x1="121.9" y1="1099.4" x2="126.6" y2="1109.7" stroke="#4cbb4c" stroke-width="3.8" stroke-linecap="round"/>
<line x1="126.6" y1="1109.7" x2="134.2" y2="1130.5" stroke="#4cbb4c" stroke-width="3.8" stroke-linecap="round"/>
<line x1="134.2" y1="1130.5" x2="138.9" y2="1126.7" stroke="#f05a5a" stroke-width="3.8" stroke-linecap="round"/>
<line x1="138.9" y1="1126.7" x2="145.5" y2="1147.5" stroke="#f05a5a" stroke-width="3.8" stroke-linecap="round"/>
<line x1="145.5" y1="1147.5" x2="151.1" y2="1140.9" stroke="#f05a5a" stroke-width="3.8" stroke-linecap="round"/>
<line x1="151.1" y1="1140.9" x2="157.7" y2="1165.4" stroke="#f05a5a" stroke-width="3.8" stroke-linecap="round"/>
<line x1="157.7" y1="1165.4" x2="163.4" y2="1162.2" stroke="#f05a5a" stroke-width="3.8" stroke-linecap="round"/>
<line x1="163.4" y1="1162.2" x2="170" y2="1155" stroke="#f05a5a" stroke-width="3.8" stroke-linecap="round"/>
<line x1="170" y1="1155" x2="175.7" y2="1181.4" stroke="#f05a5a" stroke-width="3.8" stroke-linecap="round"/>
<line x1="175.7" y1="1181.4" x2="181.3" y2="1139.9" stroke="#4cbb4c" stroke-width="3.8" stroke-linecap="round"/>
<line x1="181.3" y1="1139.9" x2="187.9" y2="1125.8" stroke="#4cbb4c" stroke-width="3.8" stroke-linecap="round"/>
<line x1="187.9" y1="1125.8" x2="193.6" y2="1133.3" stroke="#4cbb4c" stroke-width="3.8" stroke-linecap="round"/>
<line x1="193.6" y1="1133.3" x2="200.2" y2="1139.9" stroke="#4cbb4c" stroke-width="3.8" stroke-linecap="round"/>
<line x1="200.2" y1="1139.9" x2="205.8" y2="1126.7" stroke="#4cbb4c" stroke-width="3.8" stroke-linecap="round"/>
<line x1="205.8" y1="1126.7" x2="213.4" y2="1145.6" stroke="#f05a5a" stroke-width="3.8" stroke-linecap="round"/>
<line x1="213.4" y1="1145.6" x2="219" y2="1156.9" stroke="#f05a5a" stroke-width="3.8" stroke-linecap="round"/>
<line x1="219" y1="1156.9" x2="223.8" y2="1186.2" stroke="#f05a5a" stroke-width="3.8" stroke-linecap="round"/>
<line x1="223.8" y1="1186.2" x2="229.4" y2="1164.5" stroke="#f05a5a" stroke-width="3.8" stroke-linecap="round"/>
<line x1="229.4" y1="1164.5" x2="236" y2="1162.6" stroke="#f05a5a" stroke-width="3.8" stroke-linecap="round"/>
<line x1="236" y1="1162.6" x2="241.7" y2="1160.7" stroke="#f05a5a" stroke-width="3.8" stroke-linecap="round"/>
<line x1="241.7" y1="1160.7" x2="247.4" y2="1131.4" stroke="#4cbb4c" stroke-width="3.8" stroke-linecap="round"/>
<line x1="247.4" y1="1131.4" x2="253" y2="1129.5" stroke="#4cbb4c" stroke-width="3.8" stroke-linecap="round"/>
<line x1="253" y1="1129.5" x2="258.7" y2="1114.5" stroke="#4cbb4c" stroke-width="3.8" stroke-linecap="round"/>
<line x1="258.7" y1="1114.5" x2="266.2" y2="1112.6" stroke="#4cbb4c" stroke-width="3.8" stroke-linecap="round"/>
<line x1="266.2" y1="1112.6" x2="271.9" y2="1103.1" stroke="#4cbb4c" stroke-width="3.8" stroke-linecap="round"/>
<line x1="271.9" y1="1103.1" x2="277.5" y2="1123" stroke="#f05a5a" stroke-width="3.8" stroke-linecap="round"/>
<line x1="277.5" y1="1123" x2="283.2" y2="1143.7" stroke="#f05a5a" stroke-width="3.8" stroke-linecap="round"/>
<line x1="283.2" y1="1143.7" x2="289.8" y2="1141.8" stroke="#f05a5a" stroke-width="3.8" stroke-linecap="round"/>
<line x1="289.8" y1="1141.8" x2="295.5" y2="1144.6" stroke="#f05a5a" stroke-width="3.8" stroke-linecap="round"/>
<line x1="295.5" y1="1144.6" x2="301.1" y2="1136.2" stroke="#4cbb4c" stroke-width="3.8" stroke-linecap="round"/>
<line x1="301.1" y1="1136.2" x2="307.7" y2="1139" stroke="#4cbb4c" stroke-width="3.8" stroke-linecap="round"/>
<line x1="307.7" y1="1139" x2="313.4" y2="1123" stroke="#4cbb4c" stroke-width="3.8" stroke-linecap="round"/>
<line x1="313.4" y1="1123" x2="317.2" y2="1123.9" stroke="#4cbb4c" stroke-width="3.8" stroke-linecap="round"/>
<line x1="317.2" y1="1123.9" x2="324.7" y2="1142.8" stroke="#f05a5a" stroke-width="3.8" stroke-linecap="round"/>
<line x1="324.7" y1="1142.8" x2="331.3" y2="1132.4" stroke="#f05a5a" stroke-width="3.8" stroke-linecap="round"/>
<line x1="331.3" y1="1132.4" x2="337.9" y2="1168.2" stroke="#f05a5a" stroke-width="3.8" stroke-linecap="round"/>
<line x1="337.9" y1="1168.2" x2="344.5" y2="1141.8" stroke="#4cbb4c" stroke-width="3.8" stroke-linecap="round"/>
<line x1="344.5" y1="1141.8" x2="348.3" y2="1138" stroke="#4cbb4c" stroke-width="3.8" stroke-linecap="round"/>
<line x1="348.3" y1="1138" x2="355.8" y2="1114.5" stroke="#4cbb4c" stroke-width="3.8" stroke-linecap="round"/>
<line x1="355.8" y1="1114.5" x2="367.2" y2="1121" stroke="#4cbb4c" stroke-width="3.8" stroke-linecap="round"/>
<line x1="367.2" y1="1121" x2="378.5" y2="1134.3" stroke="#4cbb4c" stroke-width="3.8" stroke-linecap="round"/>
<line x1="378.5" y1="1134.3" x2="386" y2="1151.2" stroke="#f05a5a" stroke-width="3.8" stroke-linecap="round"/>
<line x1="386" y1="1151.2" x2="391.7" y2="1190.9" stroke="#f05a5a" stroke-width="3.8" stroke-linecap="round"/>
<line x1="391.7" y1="1190.9" x2="397.4" y2="1192.8" stroke="#f05a5a" stroke-width="3.8" stroke-linecap="round"/>
<line x1="397.4" y1="1192.8" x2="403" y2="1183.3" stroke="#f05a5a" stroke-width="3.8" stroke-linecap="round"/>
<line x1="403" y1="1183.3" x2="409.6" y2="1179.5" stroke="#f05a5a" stroke-width="3.8" stroke-linecap="round"/>
<line x1="409.6" y1="1179.5" x2="416.2" y2="1190.9" stroke="#f05a5a" stroke-width="3.8" stroke-linecap="round"/>
<line x1="416.2" y1="1190.9" x2="421.9" y2="1172" stroke="#4cbb4c" stroke-width="3.8" stroke-linecap="round"/>
<line x1="421.9" y1="1172" x2="427.5" y2="1155" stroke="#4cbb4c" stroke-width="3.8" stroke-linecap="round"/>
<line x1="427.5" y1="1155" x2="433.2" y2="1129.5" stroke="#4cbb4c" stroke-width="3.8" stroke-linecap="round"/>
<line x1="433.2" y1="1129.5" x2="438.9" y2="1144.6" stroke="#f05a5a" stroke-width="3.8" stroke-linecap="round"/>
<line x1="438.9" y1="1144.6" x2="448.3" y2="1132.4" stroke="#4cbb4c" stroke-width="3.8" stroke-linecap="round"/>
<line x1="448.3" y1="1132.4" x2="452.1" y2="1112.6" stroke="#4cbb4c" stroke-width="3.8" stroke-linecap="round"/>
<line x1="452.1" y1="1112.6" x2="459.6" y2="1143.7" stroke="#f05a5a" stroke-width="3.8" stroke-linecap="round"/>
<line x1="459.6" y1="1143.7" x2="469" y2="1162.6" stroke="#f05a5a" stroke-width="3.8" stroke-linecap="round"/>
<line x1="469" y1="1162.6" x2="475.7" y2="1123.9" stroke="#4cbb4c" stroke-width="3.8" stroke-linecap="round"/>
<line x1="475.7" y1="1123.9" x2="480.4" y2="1132.4" stroke="#f05a5a" stroke-width="3.8" stroke-linecap="round"/>
<line x1="480.4" y1="1132.4" x2="487" y2="1149.4" stroke="#f05a5a" stroke-width="3.8" stroke-linecap="round"/>
<line x1="487" y1="1149.4" x2="493.6" y2="1120.1" stroke="#4cbb4c" stroke-width="3.8" stroke-linecap="round"/>
<line x1="493.6" y1="1120.1" x2="499.2" y2="1129.5" stroke="#4cbb4c" stroke-width="3.8" stroke-linecap="round"/>
<line x1="499.2" y1="1129.5" x2="508.7" y2="1126.7" stroke="#4cbb4c" stroke-width="3.8" stroke-linecap="round"/>
<line x1="508.7" y1="1126.7" x2="518.1" y2="1107.8" stroke="#4cbb4c" stroke-width="3.8" stroke-linecap="round"/>
<line x1="518.1" y1="1107.8" x2="529.4" y2="1134.3" stroke="#f05a5a" stroke-width="3.8" stroke-linecap="round"/>
<line x1="529.4" y1="1134.3" x2="540.8" y2="1151.2" stroke="#f05a5a" stroke-width="3.8" stroke-linecap="round"/>
<line x1="540.8" y1="1151.2" x2="548.3" y2="1170.1" stroke="#f05a5a" stroke-width="3.8" stroke-linecap="round"/>
<line x1="548.3" y1="1170.1" x2="554" y2="1192.8" stroke="#f05a5a" stroke-width="3.8" stroke-linecap="round"/>
<line x1="554" y1="1192.8" x2="559.6" y2="1177.7" stroke="#4cbb4c" stroke-width="3.8" stroke-linecap="round"/>
<line x1="559.6" y1="1177.7" x2="565.3" y2="1145.6" stroke="#4cbb4c" stroke-width="3.8" stroke-linecap="round"/>
<line x1="565.3" y1="1145.6" x2="570" y2="1134.3" stroke="#4cbb4c" stroke-width="3.8" stroke-linecap="round"/>
<line x1="570" y1="1134.3" x2="577.5" y2="1119.2" stroke="#4cbb4c" stroke-width="3.8" stroke-linecap="round"/>
<line x1="577.5" y1="1119.2" x2="584.2" y2="1128.6" stroke="#4cbb4c" stroke-width="3.8" stroke-linecap="round"/>
<line x1="584.2" y1="1128.6" x2="588.9" y2="1093.7" stroke="#4cbb4c" stroke-width="3.8" stroke-linecap="round"/>
<line x1="588.9" y1="1093.7" x2="595.5" y2="1094.3" stroke="#4cbb4c" stroke-width="3.8" stroke-linecap="round"/>
<line x1="595.5" y1="1094.3" x2="598.3" y2="1119.2" stroke="#f05a5a" stroke-width="3.8" stroke-linecap="round"/>
<line x1="598.3" y1="1119.2" x2="601.1" y2="1151.2" stroke="#f05a5a" stroke-width="3.8" stroke-linecap="round"/>
<line x1="601.1" y1="1151.2" x2="607.7" y2="1156.9" stroke="#f05a5a" stroke-width="3.8" stroke-linecap="round"/>
<line x1="607.7" y1="1156.9" x2="615.3" y2="1157.8" stroke="#f05a5a" stroke-width="3.8" stroke-linecap="round"/>
<line x1="615.3" y1="1157.8" x2="620.9" y2="1160.7" stroke="#f05a5a" stroke-width="3.8" stroke-linecap="round"/>
<line x1="620.9" y1="1160.7" x2="624.7" y2="1181.4" stroke="#f05a5a" stroke-width="3.8" stroke-linecap="round"/>
<line x1="624.7" y1="1181.4" x2="632.3" y2="1184.3" stroke="#f05a5a" stroke-width="3.8" stroke-linecap="round"/>
<line x1="632.3" y1="1184.3" x2="637.9" y2="1170.1" stroke="#f05a5a" stroke-width="3.8" stroke-linecap="round"/>
<line x1="637.9" y1="1170.1" x2="643.6" y2="1142.8" stroke="#f05a5a" stroke-width="3.8" stroke-linecap="round"/>
<line x1="643.6" y1="1142.8" x2="647.4" y2="1147.5" stroke="#f05a5a" stroke-width="3.8" stroke-linecap="round"/>
<line x1="647.4" y1="1147.5" x2="650.2" y2="1156" stroke="#f05a5a" stroke-width="3.8" stroke-linecap="round"/>
<line x1="650.2" y1="1156" x2="654.9" y2="1122" stroke="#4cbb4c" stroke-width="3.8" stroke-linecap="round"/>
<line x1="654.9" y1="1122" x2="661.5" y2="1126.7" stroke="#4cbb4c" stroke-width="3.8" stroke-linecap="round"/>
<line x1="661.5" y1="1126.7" x2="668.1" y2="1114.5" stroke="#4cbb4c" stroke-width="3.8" stroke-linecap="round"/>
<line x1="668.1" y1="1114.5" x2="673.8" y2="1100.3" stroke="#4cbb4c" stroke-width="3.8" stroke-linecap="round"/>
<line x1="673.8" y1="1100.3" x2="679.4" y2="1101.2" stroke="#4cbb4c" stroke-width="3.8" stroke-linecap="round"/>
<line x1="679.4" y1="1101.2" x2="687" y2="1090" stroke="#4cbb4c" stroke-width="3.8" stroke-linecap="round"/>
<line x1="687" y1="1090" x2="692.6" y2="1090.9" stroke="#4cbb4c" stroke-width="3.8" stroke-linecap="round"/>
<line x1="692.6" y1="1090.9" x2="700.2" y2="1083.3" stroke="#4cbb4c" stroke-width="3.8" stroke-linecap="round"/>
<line x1="700.2" y1="1083.3" x2="704" y2="1084.3" stroke="#4cbb4c" stroke-width="3.8" stroke-linecap="round"/>
<line x1="704" y1="1084.3" x2="710.6" y2="1093.1" stroke="#4cbb4c" stroke-width="3.8" stroke-linecap="round"/>
<line x1="710.6" y1="1093.1" x2="720.9" y2="1090.9" stroke="#4cbb4c" stroke-width="3.8" stroke-linecap="round"/>
<line x1="720.9" y1="1090.9" x2="730.4" y2="1098.4" stroke="#4cbb4c" stroke-width="3.8" stroke-linecap="round"/>
<line x1="730.4" y1="1098.4" x2="739.8" y2="1110.7" stroke="#4cbb4c" stroke-width="3.8" stroke-linecap="round"/>
<line x1="739.8" y1="1110.7" x2="747.4" y2="1099.4" stroke="#4cbb4c" stroke-width="3.8" stroke-linecap="round"/>
<line x1="747.4" y1="1099.4" x2="754.9" y2="1102.2" stroke="#4cbb4c" stroke-width="3.8" stroke-linecap="round"/>
<line x1="754.9" y1="1102.2" x2="760.6" y2="1109.7" stroke="#4cbb4c" stroke-width="3.8" stroke-linecap="round"/>
<line x1="760.6" y1="1109.7" x2="770" y2="1137.1" stroke="#4cbb4c" stroke-width="3.8" stroke-linecap="round"/>
<line x1="770" y1="1137.1" x2="775.7" y2="1122.9" stroke="#4cbb4c" stroke-width="3.8" stroke-linecap="round"/>
<line x1="775.7" y1="1122.9" x2="781.3" y2="1111.6" stroke="#4cbb4c" stroke-width="3.8" stroke-linecap="round"/>
<line x1="781.3" y1="1111.6" x2="787" y2="1115.4" stroke="#4cbb4c" stroke-width="3.8" stroke-linecap="round"/>
<line x1="787" y1="1115.4" x2="794.5" y2="1128.6" stroke="#4cbb4c" stroke-width="3.8" stroke-linecap="round"/>
<line x1="794.5" y1="1128.6" x2="804" y2="1105" stroke="#4cbb4c" stroke-width="3.8" stroke-linecap="round"/>
<line x1="804" y1="1105" x2="813.4" y2="1100.3" stroke="#4cbb4c" stroke-width="3.8" stroke-linecap="round"/>
<line x1="813.4" y1="1100.3" x2="821" y2="1104" stroke="#4cbb4c" stroke-width="3.8" stroke-linecap="round"/>
<line x1="821" y1="1104" x2="829.4" y2="1091.8" stroke="#4cbb4c" stroke-width="3.8" stroke-linecap="round"/>
<line x1="829.4" y1="1091.8" x2="838.9" y2="1091.8" stroke="#4cbb4c" stroke-width="3.8" stroke-linecap="round"/>
<line x1="838.9" y1="1091.8" x2="846.4" y2="1089.9" stroke="#4cbb4c" stroke-width="3.8" stroke-linecap="round"/>
<line x1="846.4" y1="1089.9" x2="854" y2="1089" stroke="#4cbb4c" stroke-width="3.8" stroke-linecap="round"/>
<line x1="854" y1="1089" x2="859.6" y2="1117.3" stroke="#4cbb4c" stroke-width="3.8" stroke-linecap="round"/>
<line x1="859.6" y1="1117.3" x2="871" y2="1106" stroke="#4cbb4c" stroke-width="3.8" stroke-linecap="round"/>
<line x1="871" y1="1106" x2="878.5" y2="1108.8" stroke="#4cbb4c" stroke-width="3.8" stroke-linecap="round"/>
<line x1="878.5" y1="1108.8" x2="889.8" y2="1102.2" stroke="#4cbb4c" stroke-width="3.8" stroke-linecap="round"/>
<line x1="889.8" y1="1102.2" x2="895.5" y2="1105" stroke="#4cbb4c" stroke-width="3.8" stroke-linecap="round"/>
<line x1="895.5" y1="1105" x2="903" y2="1102.2" stroke="#4cbb4c" stroke-width="3.8" stroke-linecap="round"/>
<line x1="903" y1="1102.2" x2="906.8" y2="1139.9" stroke="#f05a5a" stroke-width="3.8" stroke-linecap="round"/>
<line x1="906.8" y1="1139.9" x2="918.1" y2="1149.4" stroke="#f05a5a" stroke-width="3.8" stroke-linecap="round"/>
<line x1="918.1" y1="1149.4" x2="925.7" y2="1168.2" stroke="#f05a5a" stroke-width="3.8" stroke-linecap="round"/>
<line x1="925.7" y1="1168.2" x2="933.2" y2="1172" stroke="#f05a5a" stroke-width="3.8" stroke-linecap="round"/>
<line x1="933.2" y1="1172" x2="937.9" y2="1193.7" stroke="#f05a5a" stroke-width="3.8" stroke-linecap="round"/>
<line x1="937.9" y1="1193.7" x2="943.6" y2="1187.1" stroke="#f05a5a" stroke-width="3.8" stroke-linecap="round"/>
<line x1="943.6" y1="1187.1" x2="950.2" y2="1155" stroke="#f05a5a" stroke-width="3.8" stroke-linecap="round"/>
<line x1="950.2" y1="1155" x2="955.8" y2="1165.4" stroke="#f05a5a" stroke-width="3.8" stroke-linecap="round"/>
<line x1="955.8" y1="1165.4" x2="961.5" y2="1162.6" stroke="#f05a5a" stroke-width="3.8" stroke-linecap="round"/>
<line x1="961.5" y1="1162.6" x2="967.2" y2="1156" stroke="#f05a5a" stroke-width="3.8" stroke-linecap="round"/>
<line x1="967.2" y1="1156" x2="972.8" y2="1136.2" stroke="#4cbb4c" stroke-width="3.8" stroke-linecap="round"/>
<line x1="972.8" y1="1136.2" x2="979.4" y2="1130.5" stroke="#4cbb4c" stroke-width="3.8" stroke-linecap="round"/>
<line x1="979.4" y1="1130.5" x2="986" y2="1151.2" stroke="#f05a5a" stroke-width="3.8" stroke-linecap="round"/>
<line x1="986" y1="1151.2" x2="991.7" y2="1117.3" stroke="#4cbb4c" stroke-width="3.8" stroke-linecap="round"/>
<line x1="991.7" y1="1117.3" x2="998.3" y2="1115.4" stroke="#4cbb4c" stroke-width="3.8" stroke-linecap="round"/>
<line x1="998.3" y1="1115.4" x2="1004" y2="1085.2" stroke="#4cbb4c" stroke-width="3.8" stroke-linecap="round"/>
<line x1="1004" y1="1085.2" x2="1008.7" y2="1089.9" stroke="#4cbb4c" stroke-width="3.8" stroke-linecap="round"/>
<line x1="1008.7" y1="1089.9" x2="1015.3" y2="1123" stroke="#4cbb4c" stroke-width="3.8" stroke-linecap="round"/>
<line x1="1015.3" y1="1123" x2="1021.9" y2="1134.3" stroke="#4cbb4c" stroke-width="3.8" stroke-linecap="round"/>
<line x1="1021.9" y1="1134.3" x2="1027.5" y2="1153.1" stroke="#f05a5a" stroke-width="3.8" stroke-linecap="round"/>
<line x1="1027.5" y1="1153.1" x2="1034.2" y2="1154" stroke="#f05a5a" stroke-width="3.8" stroke-linecap="round"/>
<line x1="1034.2" y1="1154" x2="1039.8" y2="1181.4" stroke="#f05a5a" stroke-width="3.8" stroke-linecap="round"/>
</g>
<text x="64.5" y="1111.1" font-size="13" fill="#c8c8c8" text-anchor="end" letter-spacing="0.25">80.00</text>
<text x="64.5" y="1154.6" font-size="13" fill="#c8c8c8" text-anchor="end" letter-spacing="0.25">40.00</text>
<text x="64.5" y="1198.1" font-size="13" fill="#c8c8c8" text-anchor="end" letter-spacing="0.25">0.00</text>
<text x="1236" y="1087.1" font-size="13" fill="#c8c8c8" letter-spacing="0.25">100.00</text>
<text x="1235.5" y="1147.1" font-size="13" fill="#c8c8c8" letter-spacing="0.25">50.00</text>
<text x="1235.5" y="1206.1" font-size="13" fill="#c8c8c8" letter-spacing="0.25">0.00</text>
<text x="1308.5" y="1089.1" font-size="13" fill="#c8c8c8" letter-spacing="0.25">100.00</text>
<text x="1307.5" y="1147.1" font-size="13" fill="#c8c8c8" letter-spacing="0.25">0.00</text>
<text x="1307.5" y="1206.1" font-size="13" fill="#c8c8c8" letter-spacing="0.25">−100.00</text>
<text x="169.8" y="1225" font-size="13" fill="#c0c0c0" text-anchor="middle">May</text>
<text x="301" y="1225" font-size="13" fill="#c0c0c0" text-anchor="middle">Jun</text>
<text x="428" y="1225" font-size="13" fill="#c0c0c0" text-anchor="middle">Jul</text>
<text x="566.5" y="1225" font-size="13" fill="#c0c0c0" text-anchor="middle">Aug</text>
<text x="691.5" y="1225" font-size="13" fill="#c0c0c0" text-anchor="middle">Sep</text>
<text x="823" y="1225" font-size="13" fill="#c0c0c0" text-anchor="middle">Oct</text>
<text x="962" y="1225" font-size="13" fill="#c0c0c0" text-anchor="middle">Nov</text>
<text x="1081" y="1225" font-size="13" fill="#c0c0c0" text-anchor="middle">Dec</text>
<svg x="1190" y="1205" width="36" height="28"><text x="14.4" y="20" font-size="13" font-weight="bold" fill="#d8d8d8">2026</text></svg>
<circle cx="42.1" cy="1220.2" r="9.3" fill="#1e1e1e"/>
<text x="42.1" y="1224.5" font-size="11.5" fill="#9a9a9a" text-anchor="middle">Z</text>
<circle cx="1262.2" cy="1220.2" r="9.3" fill="#1e1e1e"/>
<text x="1262.2" y="1224.5" font-size="11.5" fill="#9a9a9a" text-anchor="middle">A</text>
<circle cx="1333.4" cy="1220.2" r="9.3" fill="#1e1e1e"/>
<text x="1333.4" y="1224.5" font-size="11.5" fill="#9a9a9a" text-anchor="middle">B</text>
<path d="M12,1256 H24 V1271 H17.5 V1262 H12 Z" fill="#dcdcdc"/>
<circle cx="29.3" cy="1259.3" r="2.9" fill="#dcdcdc"/>
<path d="M33.5,1256 H42.2 L36.5,1271 H28 Z" fill="#dcdcdc"/>
<text x="49.3" y="1271.2" font-size="20.5" font-weight="bold" fill="#dcdcdc" textLength="120.5" lengthAdjust="spacingAndGlyphs">TradingView</text>
</svg></body></html>
